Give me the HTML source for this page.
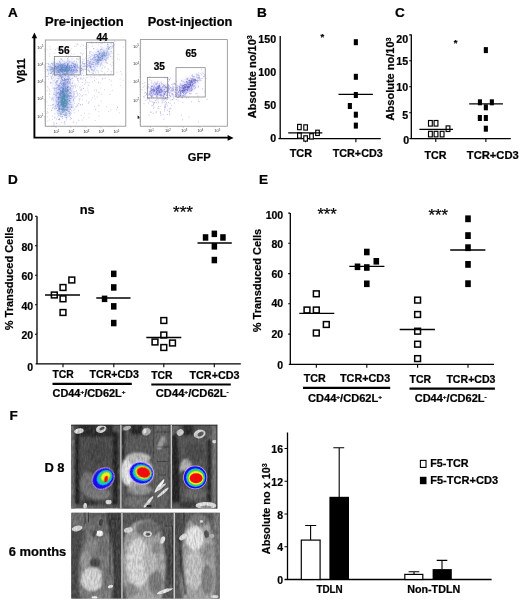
<!DOCTYPE html>
<html><head><meta charset="utf-8"><title>Figure</title>
<style>html,body{margin:0;padding:0;background:#fff}svg{display:block;font-family:"Liberation Sans",sans-serif;font-weight:bold;fill:#000}</style>
</head><body>
<svg width="520" height="603" viewBox="0 0 520 603">
<rect width="520" height="603" fill="#fff"/>
<defs><filter id="soft" x="0" y="0" width="100%" height="100%" filterUnits="userSpaceOnUse"><feGaussianBlur stdDeviation="0.4"/></filter></defs>
<g filter="url(#soft)">
<g id="panelA">
<text transform="translate(8 17.2) scale(1.13 1)" font-size="12" stroke="#000" stroke-width="0.22">A</text>
<text x="45" y="26" font-size="12.5" textLength="78.6" lengthAdjust="spacingAndGlyphs" stroke="#000" stroke-width="0.22">Pre-injection</text>
<text x="147.7" y="26" font-size="12.5" textLength="84.6" lengthAdjust="spacingAndGlyphs" stroke="#000" stroke-width="0.22">Post-injection</text>
<defs><filter id="b1" x="-30%" y="-30%" width="160%" height="160%"><feGaussianBlur stdDeviation="2"/></filter><filter id="b05" x="-30%" y="-30%" width="160%" height="160%"><feGaussianBlur stdDeviation="0.45"/></filter><filter id="b3" x="-30%" y="-30%" width="160%" height="160%"><feGaussianBlur stdDeviation="3.2"/></filter></defs>
<rect x="45.3" y="40" width="80.5" height="86.2" fill="#fff" stroke="#8a8a8a" stroke-width="0.8"/>
<g id="scatter1">
<g filter="url(#b3)" opacity="0.5">
<ellipse cx="63.5" cy="98" rx="7.5" ry="17" fill="#8794e2"/>
<ellipse cx="64" cy="69" rx="15" ry="6" fill="#8794e2"/>
<ellipse cx="99" cy="58" rx="13" ry="5" transform="rotate(-43 99 58)" fill="#a9b2ee"/>
</g>
<g filter="url(#b1)" opacity="0.4">
<ellipse cx="63.3" cy="100" rx="3.8" ry="9.5" fill="#4f78c8"/>
<ellipse cx="64" cy="69" rx="9" ry="2.8" fill="#6483d6"/>
<ellipse cx="99.5" cy="57" rx="8" ry="1.6" transform="rotate(-43 99.5 57)" fill="#8c9ee4"/>
<ellipse cx="63.4" cy="100.5" rx="1.7" ry="5" fill="#3f9e92"/>
</g>
<g filter="url(#b05)">
<path d="M63.4 94.3h0.9M63.9 74.4h0.9M51.3 76.9h0.9M88 92.2h0.9M86.7 88h0.9M75.1 86.4h0.9M77.1 94h0.9M52 70.8h0.9M73.5 80.9h0.9M77.4 66.6h0.9M73.6 91.5h0.9M56.1 123.2h0.9M78 110.7h0.9M56.8 64.3h0.9M61.8 79.4h0.9M79.4 88h0.9M59.9 59h0.9M58.6 111.3h0.9M53.5 87.9h0.9M75.7 46.2h0.9M68.9 113.3h0.9M66.1 62.4h0.9M77 80.5h0.9M80 104.7h0.9M93.9 90.7h0.9M70.1 50.8h0.9M79.1 67.3h0.9M59.9 51.6h0.9M50.6 69.3h0.9M94 95.9h0.9M74.4 64.3h0.9M47.8 105.5h0.9M87.8 85.8h0.9M72.4 92.4h0.9M96.7 96.9h0.9M77.3 95.1h0.9M85.2 94.7h0.9M64.7 106.5h0.9M77.9 78.4h0.9M73.8 97.6h0.9M70.2 109.5h0.9M56.1 72h0.9M86.8 82.6h0.9M52.2 104.7h0.9M94.4 71.3h0.9M65.3 74.8h0.9M93.3 57.4h0.9M90.7 51.6h0.9M53.8 97.2h0.9M88.3 102.6h0.9M74.2 85.4h0.9M70.7 95.8h0.9M64.8 88.7h0.9M78.3 82h0.9M81.8 95.6h0.9M104.2 89.8h0.9M60.3 73.1h0.9M67.8 104.2h0.9M61.9 91.3h0.9M47.8 87.9h0.9M75.2 87.7h0.9M60.2 97.7h0.9M73.1 69.5h0.9M111.7 90.5h0.9M58 79.6h0.9M63.9 80.5h0.9M86.2 54h0.9M66.8 104.9h0.9M83.4 117.8h0.9M61.9 97h0.9M87.6 47.3h0.9M80.3 46.2h0.9M71.2 110.7h0.9M65.3 86.6h0.9M82.3 85.4h0.9M66.4 118.8h0.9M86.9 74.9h0.9M117.4 54.5h0.9M84.5 75.6h0.9M70.4 98.9h0.9M72 97.3h0.9M79.1 58.9h0.9M49.5 46.7h0.9M90.8 99.9h0.9M94.5 59.5h0.9M68 54.6h0.9M81.8 120.1h0.9M52 119.4h0.9M85.8 77.7h0.9M66.3 67.5h0.9M75.2 91.8h0.9M95 57.5h0.9M88.5 117.7h0.9M94.1 77.7h0.9M54.6 106.4h0.9M70.1 85h0.9M93.6 75.7h0.9M73.7 67.3h0.9M67.8 102h0.9M69.4 113.8h0.9M66.9 107h0.9M94.8 120.6h0.9M55.9 103.1h0.9M64.5 81.3h0.9M57.4 87.6h0.9M100.2 83.1h0.9M77.6 106h0.9M64.4 51.8h0.9M58 107.8h0.9M86.1 101h0.9M68.1 101.3h0.9M71 53.7h0.9M84.6 68.4h0.9M51.8 63.5h0.9M46.8 90.7h0.9M81 75.4h0.9M73.2 71h0.9M82 99.9h0.9M80 89.8h0.9M92 97.8h0.9M84.1 113.4h0.9M62.7 70.7h0.9M51.3 98.6h0.9M102 79.1h0.9M78.1 103.7h0.9M51.7 79.9h0.9M73.3 101.8h0.9M67.4 77.3h0.9M49.7 73.4h0.9M84.1 84.4h0.9M52.6 61.8h0.9M116 109.4h0.9M79.2 93.5h0.9M98.3 92.3h0.9M66.8 94.5h0.9M73.8 65.2h0.9M73.2 86.4h0.9M60.8 58.6h0.9M106.2 106.9h0.9M46.5 49.7h0.9M98.7 105.7h0.9M100.8 101.4h0.9M52.3 88.3h0.9M66.9 94.5h0.9M54.9 79h0.9M76.3 91h0.9M79.5 87h0.9M62.2 100.9h0.9M68.9 62.2h0.9M56.7 82h0.9M66 85.8h0.9M68 86.2h0.9M65.6 51.8h0.9M75.6 107.3h0.9M75.8 77.5h0.9M76 58.8h0.9M51.3 99.8h0.9M49.3 119.9h0.9M61.1 49.1h0.9M54.3 94.5h0.9M76.9 86.2h0.9M94.7 99h0.9M67.6 96.3h0.9M97.8 105.3h0.9M86.4 56h0.9M65.3 99.5h0.9M62.7 107.7h0.9M78.7 103.8h0.9M90.3 76.8h0.9M61.8 103h0.9M85.6 82.2h0.9M47 86.5h0.9M74.5 109.1h0.9M82.1 82.6h0.9M83.4 95h0.9M71.7 83.3h0.9M63.6 98.5h0.9M49 66.9h0.9M68.1 46.9h0.9M55.7 95.6h0.9M78.2 80.7h0.9M63.8 48h0.9M100.9 94.4h0.9M87.7 60.8h0.9M82 104.4h0.9M56.7 48.3h0.9M68.6 88h0.9M79.4 98.8h0.9M95 109.9h0.9M48.9 56.2h0.9M66.5 82.1h0.9M76.8 43.9h0.9M64.4 74.5h0.9M66.9 63.8h0.9M80.6 90.5h0.9M66.4 65.9h0.9M50.3 82.9h0.9M70.7 48.9h0.9M63.5 74.5h0.9M76.3 96.7h0.9M67.3 61.6h0.9M65.4 80.4h0.9M81.2 89.1h0.9M55 49.5h0.9M61.3 64.2h0.9M48 79.2h0.9M59.2 84.5h0.9M77.4 72.1h0.9M109.8 74.3h0.9M87.8 84.9h0.9M54.5 87.9h0.9M73.8 112.7h0.9M81.8 104.7h0.9M77.2 78.3h0.9M77.2 56.1h0.9M89.3 57.6h0.9M64 82.5h0.9M88.9 82.6h0.9M53.5 88.2h0.9M78.5 99h0.9M54.1 124.1h0.9M98 82.4h0.9M72.8 71.7h0.9M93.5 65.1h0.9M80.1 70.5h0.9M55.5 99.2h0.9M92 81.8h0.9M55.8 101.5h0.9M67.1 89.5h0.9M95.4 109.2h0.9M68.1 100.9h0.9M56.3 80.9h0.9M92.6 52.8h0.9M89.2 71h0.9M66.9 74.5h0.9M65.8 55.9h0.9M68.4 47.5h0.9M66.7 89.4h0.9M76.4 76.4h0.9M51.7 85.8h0.9M59.3 119.6h0.9M81.8 79.2h0.9M59.5 65.1h0.9M51.1 73.5h0.9M73.3 94.4h0.9M55.3 82.3h0.9M58.6 86.1h0.9M70.8 91.8h0.9M63.7 90.8h0.9M69 100.5h0.9M68 57.2h0.9M49.2 97.1h0.9M56.3 97.2h0.9M81.4 89.4h0.9M77.1 79.5h0.9M76.2 69.3h0.9M66.2 100h0.9M52.2 97.4h0.9M101.5 68.7h0.9M70.6 78.4h0.9M95.7 89.6h0.9M84.2 65.4h0.9M67.7 81.8h0.9M81.4 78.9h0.9M76.1 90.8h0.9M94.9 68.2h0.9M49.6 49.4h0.9M98.5 92.3h0.9M58.7 65.8h0.9M77.5 95.2h0.9M49.7 53.9h0.9M73.2 87.9h0.9M58.2 93h0.9M65.9 79.9h0.9M61.6 107.3h0.9M93 73.2h0.9M83.2 63.8h0.9M69.3 100h0.9M95.3 72.8h0.9M66.7 86.7h0.9M55.8 90.9h0.9M68.7 88.3h0.9M58.1 103.3h0.9M63.1 67.5h0.9M76.6 44.4h0.9M55.8 81.5h0.9M83.3 78.1h0.9M73.6 66.3h0.9M73.4 121.9h0.9M56.4 82.4h0.9M71.1 106.6h0.9M78.9 101.1h0.9M71.7 88.1h0.9M84.7 90.9h0.9M97.9 52.3h0.9M82.6 73.1h0.9M67.9 75.9h0.9M59 61.9h0.9M56.7 97.3h0.9M68.7 83.6h0.9M64.9 103.9h0.9M76.9 78.6h0.9M80 78.4h0.9M47.2 116.9h0.9M76.4 59h0.9M87.4 90.3h0.9M74 103.4h0.9M71.6 78.4h0.9M68.5 75.1h0.9M74.3 83.9h0.9M80.2 73.1h0.9M60.4 98.2h0.9M92.1 73.3h0.9M65.8 120h0.9M62.1 99.6h0.9M98.2 83h0.9M90.1 64.9h0.9M71.7 80.1h0.9M70.1 109.1h0.9M111 66h0.9M57.6 93.9h0.9M49 93.9h0.9M78.3 75.3h0.9M77.6 44.8h0.9M81.7 44.9h0.9M55.5 68.7h0.9M60.8 102.6h0.9M69.5 72.5h0.9M77.8 120h0.9M68.1 90.8h0.9M73.2 99.3h0.9M81.9 63.2h0.9M61.6 101.7h0.9M70.7 105.7h0.9M59.6 78.1h0.9M62.9 111.5h0.9M52.2 78.6h0.9M61.8 64h0.9M59.7 88h0.9M66.1 83.8h0.9M54.1 88.7h0.9M61.6 84.4h0.9M62.1 107h0.9M72.7 122.3h0.9M54.9 88.3h0.9M55.5 94.5h0.9M66.7 73.3h0.9M66.2 94.6h0.9M72.8 65.1h0.9M69.3 98.3h0.9M66.3 102.1h0.9M73.7 91.4h0.9M69.9 88.4h0.9M68.6 82h0.9M61 122.7h0.9M66 92.5h0.9M51.7 82.4h0.9M63.7 110h0.9M65.8 103.4h0.9M61.6 116.6h0.9M58.5 86.2h0.9M70 96h0.9M59.5 85.8h0.9M59.7 105h0.9M65.2 75.6h0.9M65.8 97.9h0.9M53 107.4h0.9M59.5 89.6h0.9M69.2 116.1h0.9M55.8 102h0.9M57.6 114.1h0.9M56.2 108h0.9M82 54.3h0.9M58.1 103h0.9M61.2 84.3h0.9M81.4 96.3h0.9M47.2 108.7h0.9M46.5 113.4h0.9M56.8 97.3h0.9M73.3 96.9h0.9M49.5 67.9h0.9M72.6 106.8h0.9M54.7 108.8h0.9M66.5 105.4h0.9M70.1 106.7h0.9M69.9 55.7h0.9M63.5 102.9h0.9M85 79.7h0.9M59 95.6h0.9M70 87.9h0.9M72.3 82.4h0.9M64.4 86.6h0.9M63.4 83.9h0.9M47.6 112.5h0.9M64.7 86.1h0.9M63.8 110.8h0.9M53.2 93.2h0.9M66.9 103.4h0.9M59 61.3h0.9M73.2 100.3h0.9M62.1 90.5h0.9M64.4 88.2h0.9M52.8 83.2h0.9M56.6 85.2h0.9M51.6 105.2h0.9M50.2 105.6h0.9M52.9 100.6h0.9M74.4 98.3h0.9M55.4 95.8h0.9M63.3 67.3h0.9M56.5 97.6h0.9M57.8 96.3h0.9M68.6 107.3h0.9M70.2 104.4h0.9M59.4 94.7h0.9M59.6 90h0.9M60.4 67.4h0.9M59 94.6h0.9M53.2 94.6h0.9M66.6 92.4h0.9M80.7 53.3h0.9M60.1 65.8h0.9M66.7 90.2h0.9M67 59.1h0.9M69.7 101h0.9M62.2 85.6h0.9M67.7 87.2h0.9M64 86.8h0.9M63.8 107.1h0.9M54.1 94.5h0.9M67.6 97.3h0.9M53.8 64.3h0.9M69.7 119.5h0.9M70.3 108h0.9M56.4 83.6h0.9M70 80.4h0.9M55.8 83.3h0.9M64.1 83h0.9M73.8 93.7h0.9M52.2 115.9h0.9M56.8 98.5h0.9M61.9 90h0.9M64.9 83.9h0.9M50.6 82.9h0.9M61.8 95.9h0.9M67 96.9h0.9M54.9 83.7h0.9M66.4 103.5h0.9M60.9 92.2h0.9M70.4 95.2h0.9M68.6 104.3h0.9M63.9 115.9h0.9M56.8 89.3h0.9M54.7 82.2h0.9M76 123.1h0.9M62.2 104.1h0.9M72.6 107.9h0.9M72.8 74.8h0.9M56.2 102.2h0.9M74.9 96.7h0.9M54.3 89.3h0.9M56.1 81.3h0.9M75.5 85h0.9M72.7 100.4h0.9M56.5 101.6h0.9M76.6 105h0.9M73.4 96.6h0.9M66.6 91.8h0.9M65.8 115.8h0.9M49.1 94h0.9M64.2 85.9h0.9M59.2 107.6h0.9M80 105.1h0.9M64.9 70.2h0.9M79.3 96.2h0.9M61.7 77.1h0.9M61.5 77.5h0.9M62.6 102.5h0.9M62.3 99.5h0.9M54.3 117.9h0.9M95.7 52.8h0.9M85.9 57.7h0.9M101.5 47.8h0.9M96.3 79.1h0.9M106.2 60.2h0.9M99.5 60.6h0.9M97.4 70.8h0.9M97.7 51.3h0.9M105.8 54.7h0.9M99.8 88.1h0.9M85.4 48.5h0.9M75.5 66.4h0.9M80.2 69.4h0.9M88.7 57.6h0.9M102 78.3h0.9M121.3 74.4h0.9M99.7 64.2h0.9M119.6 79.1h0.9M94.3 67.5h0.9M101.4 62.6h0.9M92 46.1h0.9M91.6 43.5h0.9M112.7 68.4h0.9M83.5 78.7h0.9M120.1 71.7h0.9M122.8 47.2h0.9M104.4 67.1h0.9M100.4 64.1h0.9M110.6 44.1h0.9M83.1 45.3h0.9M91.3 54.7h0.9M102.4 65.2h0.9M98.4 53.9h0.9M92.7 73.4h0.9M107.2 63.2h0.9M94.1 80.6h0.9M90.9 69.8h0.9M111.8 58.8h0.9M107.9 48.6h0.9M110.2 64.4h0.9M79 70h0.9M87.3 77.4h0.9M89.9 60h0.9M101.4 58h0.9M101.1 55.4h0.9M106.1 62.1h0.9M111.9 62.4h0.9M76.6 63.1h0.9M103.6 74.8h0.9M85 80.6h0.9M96.1 90.7h0.9M96.2 70.2h0.9M93.6 48.6h0.9M111.2 72.9h0.9M116.5 72.3h0.9M91.1 42.1h0.9M90.2 53.9h0.9M88.2 69h0.9M101.9 58.8h0.9M100.1 60.3h0.9M100.6 71h0.9M109.5 53.8h0.9M79.9 79.1h0.9M99.4 75.3h0.9M78.3 58h0.9M98.3 44.7h0.9M91.8 70.7h0.9M110.9 81.1h0.9M87.6 45.2h0.9M104.2 73.3h0.9M100.3 46.4h0.9M107.4 71.5h0.9M104.6 56.2h0.9M101.6 71.5h0.9M101.9 67.8h0.9M98.2 72.7h0.9M91 61h0.9M94.3 68.9h0.9M117.1 59h0.9M122.7 80.3h0.9M107.5 69h0.9M119.2 59.8h0.9M96.7 49.2h0.9M103.7 78.1h0.9M104.4 67.1h0.9M95.6 64h0.9M80.9 74.6h0.9M93.1 48.7h0.9M89 52.1h0.9M108.3 74.7h0.9M81.7 73.1h0.9M108.7 55h0.9M80.2 53.1h0.9M90.4 66.1h0.9M100.8 43.6h0.9M108.9 47.5h0.9M89.7 51.7h0.9M91.5 77.6h0.9M108.2 69.2h0.9M101.8 43.4h0.9M91.8 55.4h0.9M86.3 68.1h0.9M89.1 53.5h0.9M105.1 78h0.9M100.1 50.3h0.9M65.5 64.1h0.9M112.6 65.6h0.9M109.1 79.7h0.9M111.5 56.7h0.9M110.6 71.3h0.9M88.7 101.4h0.9M86.5 94.9h0.9M111.2 85.1h0.9M78.5 120.7h0.9M62.9 98.6h0.9M77.1 105.2h0.9M56 123.7h0.9M74.2 46.2h0.9M67.9 74.9h0.9M47.5 76.5h0.9M79.3 99.8h0.9M74 63.6h0.9M64 103.4h0.9M119.8 85.5h0.9M63.6 108.4h0.9M77.1 59.2h0.9M56.6 106.3h0.9M109.6 94.5h0.9M83.1 88.4h0.9M64.1 122h0.9M74 94.8h0.9M110.4 109.7h0.9M83 66.1h0.9M89.3 52h0.9M111.5 71.1h0.9M112.9 63.8h0.9M75.8 62.7h0.9M79.7 57h0.9M46.7 101.8h0.9M68.4 62h0.9M70 81.5h0.9M79.9 94.7h0.9M97.9 71.8h0.9M118.9 112.8h0.9M51 110.6h0.9M117.2 107h0.9M57.5 110.9h0.9M95.9 42.8h0.9M47.4 121h0.9M97.7 62.4h0.9M54.4 53.4h0.9M64.7 106.3h0.9M73.5 54.2h0.9M117 107.6h0.9M59.6 115.9h0.9M94 106.7h0.9M98.6 116.1h0.9M108 111.5h0.9M61.9 99.3h0.9M87.9 103.4h0.9M80.7 115.2h0.9M89.8 63.6h0.9M64.8 53.1h0.9M85 46.4h0.9M82.9 53.6h0.9M84.8 83.1h0.9M88.6 113.6h0.9M47 111.7h0.9M83 88.5h0.9M98.4 111.7h0.9M81.1 68.6h0.9M85.5 65.7h0.9M80.3 62.2h0.9M89.4 66.9h0.9M80.2 58.6h0.9M78.5 74.7h0.9M79.4 65.7h0.9M84.8 65.4h0.9M82.9 61.2h0.9M79.8 71.9h0.9M81 69h0.9M77.2 65h0.9M85 69.6h0.9M79.5 68.1h0.9M85.5 63.4h0.9M85.9 62.9h0.9M80.8 65.9h0.9M73.1 65.6h0.9M80 60.9h0.9M82.3 68.7h0.9M82.4 70.4h0.9M79.4 61.4h0.9M90.2 67.4h0.9M87.8 63.1h0.9M87.2 66.9h0.9M86.6 66.1h0.9M88.8 63.7h0.9M80.1 60.8h0.9M88.6 63.4h0.9M79.8 62.7h0.9M82.2 61.6h0.9M82.8 63.8h0.9M81.8 62.6h0.9M84.1 64.4h0.9M84.5 66.9h0.9M85.4 58.3h0.9M81.9 63.2h0.9M87.1 60.5h0.9M81.1 65h0.9M82.7 69.5h0.9M82.2 69.4h0.9M78.1 59.7h0.9M88.9 67.5h0.9M86 66.4h0.9M85.9 61.7h0.9M87.8 64.1h0.9M87.9 66.3h0.9M76.1 61.5h0.9M88.5 65.5h0.9M82.4 66.8h0.9M82.3 64.1h0.9M84.4 66.5h0.9M90.1 66.2h0.9M91.5 72.3h0.9M90.9 69.7h0.9M84.5 66.5h0.9M83.4 63.4h0.9M83.7 63.8h0.9M90.6 67.9h0.9M82.2 59.3h0.9" stroke="#9094de" stroke-width="0.9" opacity="0.5" fill="none"/>
<path d="M63.3 94.6h0.9M59.4 86.8h0.9M53.3 104.4h0.9M63.3 97.4h0.9M69.4 100.8h0.9M64.3 95.1h0.9M59.8 114.6h0.9M66.5 117.2h0.9M61.8 99.2h0.9M58.9 108.9h0.9M57 104.6h0.9M67.1 114.1h0.9M58.6 110.2h0.9M60.7 90.9h0.9M56.9 110.8h0.9M70.7 93.2h0.9M60.3 95.3h0.9M73.4 110.2h0.9M62.1 80.1h0.9M59.7 111.3h0.9M71.5 96.7h0.9M60.7 93.5h0.9M54.6 108h0.9M58 109.9h0.9M56.8 85.2h0.9M65 91.1h0.9M66.6 99.3h0.9M57.9 105.2h0.9M68.1 79.2h0.9M70.8 104.7h0.9M67.7 79.7h0.9M60.4 95.2h0.9M68.8 84h0.9M60.8 77.5h0.9M62 102.6h0.9M56.4 92.4h0.9M64.5 115.7h0.9M66.3 96h0.9M58.8 88.9h0.9M60.4 100.4h0.9M62 116.5h0.9M65.2 87.8h0.9M69.3 109.3h0.9M64.2 91.5h0.9M55.9 87.8h0.9M67.7 90.8h0.9M57.5 100.7h0.9M64 105.4h0.9M65.2 113.9h0.9M59.1 109h0.9M58.6 106h0.9M63.9 101.6h0.9M67.5 99.1h0.9M67.5 108.5h0.9M64.2 93.1h0.9M60.4 93.3h0.9M62.4 98.7h0.9M75.7 106.5h0.9M67.1 90.2h0.9M60.5 95.5h0.9M64.8 88.2h0.9M70.6 93.5h0.9M69.4 74.8h0.9M63.1 101.9h0.9M63.7 105.4h0.9M64.4 100.8h0.9M55.6 91h0.9M52.8 105h0.9M64.7 97h0.9M60.1 92.7h0.9M70.1 117.6h0.9M62.2 112.5h0.9M57.7 78.3h0.9M61.8 89.7h0.9M60.8 100.8h0.9M76.7 92.9h0.9M63.3 101.9h0.9M62.6 108.7h0.9M71.7 86.4h0.9M64.2 96.3h0.9M65.8 83h0.9M57.2 74.3h0.9M65.4 101.1h0.9M65.1 74.2h0.9M62.2 91h0.9M57.8 89h0.9M66 104.9h0.9M62.9 104.4h0.9M60.7 99.6h0.9M63.1 104.8h0.9M63.1 97.5h0.9M63.1 92.2h0.9M72.6 105h0.9M63.7 123.1h0.9M70.3 83h0.9M65.8 108h0.9M70.6 113.3h0.9M67.3 86.9h0.9M59.4 101.6h0.9M66.1 88.4h0.9M61.9 94.7h0.9M63.3 102.5h0.9M62.8 86h0.9M67.6 116h0.9M62.2 109.7h0.9M64.8 106h0.9M65.8 91.1h0.9M65.1 109.7h0.9M58.2 119.4h0.9M71.1 118.6h0.9M71.4 107.3h0.9M62.2 92.6h0.9M59.7 100h0.9M62.7 106h0.9M53.2 122.7h0.9M73.1 99.3h0.9M65.9 104.2h0.9M64.6 96.9h0.9M63.3 90.3h0.9M64.1 98.8h0.9M65.2 90.1h0.9M63.4 99.5h0.9M66.6 88h0.9M64.5 109.4h0.9M66.1 95.3h0.9M61.3 96.4h0.9M65.5 115.5h0.9M63 92.2h0.9M64.8 101.2h0.9M59.9 91h0.9M62.4 106h0.9M58.8 88h0.9M66.2 86.3h0.9M63.5 102.7h0.9M63.5 88.3h0.9M63.3 95.5h0.9M65.3 90.3h0.9M69 81.7h0.9M62.5 99h0.9M67.8 92.9h0.9M66 93.2h0.9M65.4 117.4h0.9M61.3 103.5h0.9M58.7 109h0.9M68.5 99.7h0.9M58.2 102.9h0.9M67.5 110.7h0.9M67.9 80h0.9M59.5 113.7h0.9M57.3 110.5h0.9M70.9 107.5h0.9M68.3 95.8h0.9M58.1 97.6h0.9M62.5 98.5h0.9M66.4 97.7h0.9M63.9 103.5h0.9M62.1 118.3h0.9M65.1 100h0.9M62.8 92.4h0.9M69 100.9h0.9M59 92.8h0.9M63 94.3h0.9M68.7 87.1h0.9M65.3 100.6h0.9M58.2 99.2h0.9M62.6 104.2h0.9M61.2 102.1h0.9M56.8 87.2h0.9M66 110.1h0.9M63.6 92.7h0.9M69.3 77.4h0.9M59.4 105.8h0.9M66.8 88.3h0.9M54.3 113.7h0.9M64.5 89.6h0.9M63 108.5h0.9M51.5 110h0.9M67.8 77.4h0.9M67.7 80.5h0.9M67.9 103.5h0.9M73.4 93.2h0.9M62.7 110h0.9M61 91.4h0.9M61.7 98.1h0.9M58.4 103.8h0.9M65.6 99.9h0.9M70.8 96h0.9M69.3 93.6h0.9M67.8 78.9h0.9M64.3 97.2h0.9M61.6 92.5h0.9M62.3 91.4h0.9M54.3 92.2h0.9M61.3 93.4h0.9M58.8 97.3h0.9M66.8 96.6h0.9M60.3 113.1h0.9M66.9 108.9h0.9M68.5 95.9h0.9M62 110.6h0.9M61 97.6h0.9M64.7 103h0.9M61.5 109.2h0.9M62.1 106.6h0.9M67.5 106.2h0.9M67.2 87h0.9M58.1 92.2h0.9M64.4 114.9h0.9M57.9 101.9h0.9M60.1 91.1h0.9M61.7 106.2h0.9M63.5 111.4h0.9M58.5 108.1h0.9M67.2 100h0.9M65.7 93.2h0.9M58.9 94.5h0.9M60.2 116.2h0.9M64 102.3h0.9M67 91h0.9M67 103.2h0.9M56.4 104.9h0.9M65.4 103.9h0.9M70.4 95.1h0.9M65 107h0.9M58.7 111.3h0.9M57.9 85h0.9M66.2 87.7h0.9M63.8 81.7h0.9M64.3 87.1h0.9M65.7 83h0.9M65.4 96.3h0.9M63.6 98.3h0.9M64.7 85.2h0.9M52.3 98.7h0.9M59.6 94h0.9M66.4 78.3h0.9M60.4 92.4h0.9M58.6 102.2h0.9M63.2 90.4h0.9M58.6 107.2h0.9M60.1 105h0.9M66.4 79.3h0.9M58.6 98.8h0.9M64.3 107.3h0.9M66.1 110h0.9M61.8 96.7h0.9M66.9 94.7h0.9M68.8 82.6h0.9M66.2 97.4h0.9M54.2 108.8h0.9M64.6 99.3h0.9M59 93.8h0.9M70.3 90.7h0.9M48.9 89.1h0.9M58.2 97.3h0.9M62.2 89.3h0.9M59 109.8h0.9M55.9 119.1h0.9M61.7 87.4h0.9M66.3 105.1h0.9M58.4 106.6h0.9M56 88.8h0.9M68.3 96.6h0.9M57.4 104.1h0.9M67.2 99h0.9M55.8 94.9h0.9M64.6 107.2h0.9M71.4 96.8h0.9M61.3 98.5h0.9M69.1 89.4h0.9M70.6 70.5h0.9M67.1 92.1h0.9M64.8 106.3h0.9M58.3 97.8h0.9M64 105.2h0.9M59.9 88.4h0.9M53.4 125.1h0.9M62.6 96.6h0.9M56.3 108.4h0.9M60.1 113.9h0.9M66.9 99.4h0.9M67.1 87.5h0.9M62.3 92.9h0.9M57.8 98.9h0.9M61.8 114h0.9M49.3 91.1h0.9M59.6 93.9h0.9M64.9 103.3h0.9M63.7 94h0.9M65.2 102.9h0.9M55.6 95.8h0.9M58.1 86.3h0.9M63.9 99.7h0.9M64.3 89.9h0.9M63 89.4h0.9M64.5 106.3h0.9M70 112.7h0.9M60.1 94h0.9M59.1 102h0.9M71.4 106.9h0.9M54.7 85.3h0.9M57.4 104.1h0.9M63.1 102.1h0.9M71.5 90.8h0.9M58.4 119.4h0.9M65.3 90.9h0.9M55.6 82.5h0.9M52.8 99.1h0.9M62.9 109.4h0.9M63.1 91.7h0.9M58.9 118.7h0.9M55.6 100.4h0.9M63 105.5h0.9M61.2 104.1h0.9M66.9 97.7h0.9M61.5 96.9h0.9M59.3 96.6h0.9M61.9 101.1h0.9M68.2 113.1h0.9M61 105.2h0.9M64.1 107.1h0.9M63.2 101.8h0.9M61.8 90.7h0.9M66.2 112.8h0.9M65.9 103.7h0.9M64.7 94.4h0.9M55.2 105.5h0.9M64.5 93.2h0.9M58.4 112.1h0.9M54.4 117h0.9M64.6 124h0.9M60.2 98.6h0.9M61 100.5h0.9M62.9 91.1h0.9M68.4 91.1h0.9M60.8 104.7h0.9M61.3 94.3h0.9M65.1 95.2h0.9M58 97.6h0.9M61.3 116.8h0.9M58 108.9h0.9M60.2 95.1h0.9M61.7 101.8h0.9M65.9 117.6h0.9M59.7 112.8h0.9M67.1 107.8h0.9M59.5 108.2h0.9M62.6 102.7h0.9M61.7 105.9h0.9M67.4 111.1h0.9M61.8 109.4h0.9M70.1 89.6h0.9M70.5 85.4h0.9M65.3 105.4h0.9M69.5 102.3h0.9M61.7 90.5h0.9M57.4 106.7h0.9M62.7 91.4h0.9M66.1 91.1h0.9M61.7 94.1h0.9M69.5 114.8h0.9M63.6 82.5h0.9M64.4 99.8h0.9M64.4 105h0.9M61.3 108.6h0.9M66.8 101.4h0.9M61.9 93.9h0.9M67 87.7h0.9M63.1 91.1h0.9M56.9 105h0.9M63.2 99.4h0.9M68 83.6h0.9M62.8 102h0.9M67.6 87.8h0.9M66.2 101.5h0.9M68.4 111.3h0.9M64.3 121.7h0.9M63.6 94.6h0.9M62.4 89.1h0.9M64.4 79.3h0.9M62.7 103.4h0.9M67.8 95.6h0.9M69.7 92.5h0.9M63.9 79.3h0.9M60.5 90.5h0.9M69.2 104.8h0.9M58.3 104.2h0.9M65.5 96.7h0.9M63.6 95.9h0.9M62.1 80.7h0.9M62.1 112.1h0.9M69.5 96.5h0.9M60.3 96.6h0.9M66.8 102.8h0.9M60.6 102.6h0.9M62.1 104.2h0.9M62.5 83.9h0.9M63.1 106.8h0.9M58.7 97.6h0.9M67.2 95.4h0.9M59.3 119.6h0.9M66.1 109.7h0.9M58.3 115.4h0.9M56.7 93.3h0.9M65.6 112.8h0.9M59.8 92h0.9M65.3 79.4h0.9M65.6 104.9h0.9M61.1 104.4h0.9M66.3 102.3h0.9M64.6 114.5h0.9M61.2 100.5h0.9M60.5 109.4h0.9M61.3 103.7h0.9M63.8 99.7h0.9M70.5 98.6h0.9M68.7 107.7h0.9M68.9 97.7h0.9M66.7 106.9h0.9M60.6 101.6h0.9M62.8 98.6h0.9M69.1 92h0.9M57.4 80.9h0.9M61.8 92.4h0.9M63 104.7h0.9M70.4 102.6h0.9M65.7 91.7h0.9M64.9 112.9h0.9M70 79.6h0.9M66 115.2h0.9M67.6 84.1h0.9M61.7 104.9h0.9M65.5 90.9h0.9M59 108.5h0.9M56.9 113.1h0.9M63.2 102h0.9M58.1 92.7h0.9M67 84.3h0.9M72.7 85.4h0.9M58.2 99.1h0.9M64.8 106.5h0.9M61.9 96.8h0.9M62.7 93.1h0.9M52.1 108.1h0.9M64.2 100.7h0.9M60.6 101.4h0.9M63.3 98.2h0.9M68.9 81.9h0.9M65 88.3h0.9M61.1 114h0.9M58.9 97.7h0.9M60.3 108.4h0.9M60.3 81.8h0.9M65.6 95.6h0.9M61.3 109.8h0.9M59.9 95h0.9M63.7 103.2h0.9M60.5 109.3h0.9M72.8 95.4h0.9M72.3 78.2h0.9M69.3 95.9h0.9M64.1 95.6h0.9M61.4 86h0.9M60.9 111.9h0.9M68.2 95.8h0.9M61.5 91.8h0.9M57.3 116.9h0.9M66 100.3h0.9M61.9 88.6h0.9M68.3 107.2h0.9M58.8 108.7h0.9M58.3 105.2h0.9M59.6 94.6h0.9M65.1 103.5h0.9M68 90.8h0.9M69 112.9h0.9M63 103.7h0.9M60.2 97.3h0.9M57.8 99.6h0.9M63.3 112.6h0.9M66.7 107.4h0.9M61.9 96.6h0.9M61.8 101.2h0.9M54.9 106.3h0.9M57.2 93.4h0.9M63.7 93.8h0.9M70.2 98.4h0.9M69.1 111.2h0.9M61 102.9h0.9M68.9 96h0.9M64 93.4h0.9M63.8 95.5h0.9M63 109.1h0.9M69 100.7h0.9M63.6 107.7h0.9M62.7 88.3h0.9M68.4 89.9h0.9M67.7 89.5h0.9M71.5 88.9h0.9M65.9 114.3h0.9M58.4 113.7h0.9M61 81h0.9M65.9 106.2h0.9M64 73.5h0.9M63.3 95.9h0.9M61.9 96h0.9M56.3 92.9h0.9M69.8 115h0.9M62.2 91.7h0.9M64.3 109.8h0.9M67 87.4h0.9M63.9 100.5h0.9M68.5 111.4h0.9M64.7 111.4h0.9M60.7 114.4h0.9M61.3 102.9h0.9M67.6 90h0.9M61.5 81.1h0.9M64 98.5h0.9M61.7 103.9h0.9M64.3 67.9h0.9M70.7 75h0.9M59.4 65.5h0.9M58 69.1h0.9M68.8 65.7h0.9M72.6 65.2h0.9M71 70.3h0.9M67.7 76.5h0.9M61.1 68.2h0.9M67.8 71.9h0.9M51.3 69.8h0.9M56.7 71h0.9M76 69h0.9M62.5 69.5h0.9M68.6 69.4h0.9M59.9 66.2h0.9M61.9 73.1h0.9M62.6 73.6h0.9M66 68.8h0.9M48.4 66.4h0.9M74.9 64.2h0.9M54.5 64.9h0.9M58.5 71.1h0.9M68.9 61.6h0.9M76.8 66.7h0.9M58.1 74.7h0.9M62.8 64.4h0.9M57.7 66.2h0.9M54.3 67.6h0.9M71.5 70h0.9M50.9 78.7h0.9M54.5 69.2h0.9M63.8 71.5h0.9M60.5 70.4h0.9M82.7 69.1h0.9M53.6 70h0.9M56.2 67.5h0.9M65.2 70h0.9M60.9 71.8h0.9M61.7 64.2h0.9M71.5 67.5h0.9M74.6 66.5h0.9M68.7 69.9h0.9M53.3 73.8h0.9M73.5 70.6h0.9M69.6 67h0.9M63.4 69.6h0.9M67.3 71.3h0.9M61.6 66.3h0.9M58.4 70.3h0.9M48.4 64.3h0.9M59.7 66.8h0.9M61 59.3h0.9M60.4 67.9h0.9M70.6 61.8h0.9M60.7 70.5h0.9M68 73h0.9M73.1 65.1h0.9M69.3 67.6h0.9M56.2 74.3h0.9M57.8 65.8h0.9M59.8 65.8h0.9M72.7 70.2h0.9M76.3 70.3h0.9M57.9 72.5h0.9M57.5 67.2h0.9M62 68.9h0.9M74.4 66.6h0.9M66.7 68.7h0.9M52 64.9h0.9M61.5 70.2h0.9M66.4 70.5h0.9M63.9 67.2h0.9M67.4 65.2h0.9M51.2 67.6h0.9M50.4 67h0.9M56.7 66.8h0.9M63.1 65.9h0.9M59.6 62.7h0.9M64.8 65.7h0.9M67.2 58.7h0.9M56.2 69.7h0.9M64.4 69.2h0.9M49.8 69.6h0.9M64.9 65.3h0.9M70.3 68.6h0.9M63.7 67.2h0.9M68.5 69.1h0.9M73.9 70.4h0.9M57.8 68h0.9M71.9 67.5h0.9M67 70.7h0.9M61.9 60.5h0.9M64.7 69.6h0.9M64.7 66.1h0.9M74.6 68.3h0.9M57.8 66.2h0.9M66.8 64.9h0.9M54.3 76h0.9M75.5 72.6h0.9M76 70.9h0.9M48 73.1h0.9M74.9 70.6h0.9M76.1 67h0.9M64.7 71.6h0.9M62.7 72.7h0.9M64.2 71.3h0.9M64.3 63.5h0.9M54.3 80.1h0.9M66.1 73.5h0.9M74 74.9h0.9M68.6 66.7h0.9M63.7 61.9h0.9M61.8 72.1h0.9M71.1 73.6h0.9M55 66.5h0.9M68.4 76.2h0.9M52.9 73.8h0.9M67.4 67h0.9M83.7 59.7h0.9M62.9 69.6h0.9M83.2 75.3h0.9M84.4 69.3h0.9M72.6 73.7h0.9M68.2 70.1h0.9M61.8 67.3h0.9M52.2 75.8h0.9M59.4 61.3h0.9M65.9 68.7h0.9M65.1 75.3h0.9M62.5 67.8h0.9M56.6 68.7h0.9M59.4 69.5h0.9M92.4 70.2h0.9M55.6 75.7h0.9M71.5 71.7h0.9M70.1 71.7h0.9M69.7 73.9h0.9M72.8 73.7h0.9M58.9 68.8h0.9M56.8 72.2h0.9M71.2 67.1h0.9M68.9 78.3h0.9M74.9 64.8h0.9M62.6 71.1h0.9M63.2 70.2h0.9M74.4 70h0.9M53.3 71.4h0.9M62.6 69.2h0.9M58.3 63.8h0.9M52 67.5h0.9M53.6 59h0.9M74.1 64.6h0.9M56.8 70.7h0.9M56.4 71.2h0.9M59 69.9h0.9M64.5 68.8h0.9M46.6 63.5h0.9M63.1 73.9h0.9M58.5 70.7h0.9M65 70.5h0.9M72.7 63.4h0.9M66 68.2h0.9M60.6 65.7h0.9M56.2 65.1h0.9M53.3 77.8h0.9M79.2 68.8h0.9M70.4 65.3h0.9M64.8 74h0.9M63.1 65.2h0.9M61.3 65.2h0.9M50.6 68h0.9M59.8 65.9h0.9M55.3 65.4h0.9M65.7 73.8h0.9M61.6 76.9h0.9M48.5 69.8h0.9M52.8 68.2h0.9M64.4 70.8h0.9M74 66.8h0.9M52 68.1h0.9M66.2 66.3h0.9M71.8 74.9h0.9M50.3 70.1h0.9M72.9 61.9h0.9M65.4 68h0.9M50.3 73.5h0.9M65.5 67.1h0.9M67.6 71.1h0.9M70.6 70.9h0.9M67.3 64.6h0.9M59.6 69.3h0.9M60 65h0.9M46.7 69.7h0.9M63.8 66.7h0.9M59.6 65.6h0.9M56.6 68.4h0.9M57.5 71.2h0.9M62.2 69.3h0.9M67.3 73.4h0.9M69.1 69.6h0.9M62 65.9h0.9M60.3 71.3h0.9M65.6 67.4h0.9M51.2 63.3h0.9M66.5 72.5h0.9M67 63.8h0.9M61.5 69.6h0.9M55 70.1h0.9M61.6 65.8h0.9M52 71.7h0.9M66.8 65.6h0.9M54.1 72h0.9M69 67.7h0.9M78.2 67.8h0.9M53.7 72.7h0.9M61.8 70h0.9M63.9 65.2h0.9M52.5 68.1h0.9M76.5 65.2h0.9M76.1 69.6h0.9M53.2 69.8h0.9M68.7 65.6h0.9M53.2 70.4h0.9M56 63.5h0.9M61.3 69.4h0.9M58.4 64.5h0.9M65.5 62.5h0.9M68.4 70.6h0.9M79 72h0.9M66.8 69.7h0.9M63.8 64h0.9M77 70.7h0.9M60.9 64.7h0.9M77.2 70.7h0.9M52.6 71.2h0.9M81 68.7h0.9M67.2 67.3h0.9M57.7 72.7h0.9M91.9 69.2h0.9M62.4 71.7h0.9M60.7 71.4h0.9M71.1 65.1h0.9M53.6 68.5h0.9M71.2 69.8h0.9M74.9 63.9h0.9M68 66.6h0.9M64.4 70h0.9M54.6 68h0.9M52.8 69.8h0.9M55.7 67h0.9M65.5 66.5h0.9M74.1 66.5h0.9M71.3 69.8h0.9M54 68h0.9M55.8 67.5h0.9M61 75.3h0.9M59.6 74.4h0.9M67.6 64.1h0.9M73 70.2h0.9M61.6 67.9h0.9M65.9 67.7h0.9M58.6 67.5h0.9M74.3 66.6h0.9M67 64.7h0.9M56.9 63.9h0.9M61.7 71.2h0.9M66.3 67h0.9M69.1 67.6h0.9M66.9 69.8h0.9M68.5 59.9h0.9M51.5 71.6h0.9M62.5 76.8h0.9M61.3 66.8h0.9M77.2 70.8h0.9M81 70.6h0.9M61.6 71.4h0.9M56.3 67.2h0.9M58.4 68h0.9M70.7 67.1h0.9M66.5 67h0.9M71.6 58.9h0.9M61.6 69.4h0.9M53.6 72.4h0.9M65.5 73.4h0.9M72.3 71.1h0.9M62.1 64.9h0.9M61.5 67.2h0.9M65.8 67.1h0.9M91.6 63.1h0.9M74.3 67.1h0.9M61.3 72.1h0.9M63.5 64.5h0.9M67.3 68.1h0.9M53.8 66.1h0.9M67.9 69.9h0.9M60.8 76.6h0.9M67.3 66.6h0.9M65.7 68.4h0.9M50.7 76.2h0.9M61.8 67.8h0.9M58.3 72.3h0.9M63.8 74.9h0.9M70.7 74.7h0.9M62.4 70.1h0.9M59.5 68.2h0.9M47.6 66.7h0.9M54.8 66.5h0.9M74.6 69.7h0.9M74.7 71.9h0.9M71.9 72.4h0.9M58 71.7h0.9M60.5 66.9h0.9M74.4 76.5h0.9M54.5 75h0.9M71.1 65.8h0.9M66 70.1h0.9M66.9 67.5h0.9M51.7 68.9h0.9M71.4 71.6h0.9M69.6 72.7h0.9M54.4 68.6h0.9M66.6 72.4h0.9M64.9 70.6h0.9M64.7 76.3h0.9M86.2 69.6h0.9M46.7 69.3h0.9M50.4 66.4h0.9M65.6 74.9h0.9M67.7 71.2h0.9M72.8 69.5h0.9M55.7 68.5h0.9M66.6 67.8h0.9M57.4 67.5h0.9M49.8 65.1h0.9M62.7 67.5h0.9M63.8 73.8h0.9M66.2 68.7h0.9M52.8 65h0.9M66.9 65.7h0.9M67.4 65h0.9M64.7 68.5h0.9M72.6 67.4h0.9M60.1 69.7h0.9M64 74.8h0.9M61.1 66.9h0.9M60.6 70.5h0.9M65.6 71.3h0.9M50.9 77.6h0.9M80.3 68.7h0.9M52.4 69.4h0.9M67.3 60.9h0.9M63.6 63.5h0.9M67.7 73.7h0.9M72.9 63.4h0.9M76.1 72h0.9M60.2 70.6h0.9M77.4 67.6h0.9M63.4 66.8h0.9M74.1 61.1h0.9M76.5 65.4h0.9M72 63h0.9M54.9 66.7h0.9M71.1 63h0.9M69 66.5h0.9M74.9 67.7h0.9M67.9 68.2h0.9M79.9 67.5h0.9M63.3 75.9h0.9M64.2 71.2h0.9M56.8 69.5h0.9M57.6 63.4h0.9M50.6 72.9h0.9M67.4 63.4h0.9M80.1 66.3h0.9M60.1 69.7h0.9M53.1 63h0.9M56.7 73h0.9M72.2 63.2h0.9M74.5 68.9h0.9M68.1 69h0.9M67.3 65.2h0.9M55.2 66.3h0.9M60.1 71h0.9M52.4 74.5h0.9M57.7 66.7h0.9M69.9 70.3h0.9M60.4 65h0.9M54.4 63.1h0.9M74 72.7h0.9M80.6 70.6h0.9M66.5 71.5h0.9M72.2 67.9h0.9M66.7 76.5h0.9M48 63.8h0.9M54.7 71.5h0.9M74.4 67.6h0.9M69.6 68.6h0.9M66.2 66.9h0.9M63.3 68.8h0.9M73.8 76.7h0.9M46.9 70.7h0.9M63.5 72.2h0.9M73.2 71.6h0.9M70.9 65.4h0.9M47.9 74.7h0.9M74.6 65.4h0.9M75.3 71.2h0.9M54.5 73h0.9M57.3 66.2h0.9M49.4 68h0.9M72.8 66.4h0.9M46.5 76.4h0.9M80.4 71.3h0.9M58.6 64.5h0.9M48.5 70.8h0.9M75.4 65h0.9M63.5 67.8h0.9M61.2 70.6h0.9M82.7 66.5h0.9M71.3 72.7h0.9M60.9 68.3h0.9M51.2 72.6h0.9M58.6 66.5h0.9M64.1 65.7h0.9M54 67.7h0.9M77.1 68.1h0.9M68.3 63.6h0.9M59.9 63.3h0.9M62.5 71h0.9M86.4 66.5h0.9M98.8 54.5h0.9M105.9 55.3h0.9M100.9 54.5h0.9M97.4 57h0.9M98.8 59.4h0.9M99.1 61.8h0.9M114.2 41.3h0.9M102.8 57.7h0.9M102.6 53.6h0.9M98 63h0.9M103.9 55.3h0.9M95.2 64.1h0.9M103.6 52.9h0.9M107.4 58.7h0.9M88.4 70.5h0.9M88.9 62.1h0.9M98.6 60.6h0.9M97 55.2h0.9M88.8 65.4h0.9M97.4 56.2h0.9M93 70.7h0.9M93.4 62.7h0.9M94.4 60.1h0.9M98.7 57.1h0.9M100.5 51.8h0.9M93.5 71h0.9M100.1 60.1h0.9M107.6 52.1h0.9M96.1 54.5h0.9M90.8 69.7h0.9M104.4 55.1h0.9M84.3 63.5h0.9M90 61.9h0.9M98 54.9h0.9M107.8 47.2h0.9M97.2 63.2h0.9M99.3 54.1h0.9M108 57.1h0.9M90.7 64.9h0.9M88.3 60.4h0.9M104.4 55.7h0.9M106 53h0.9M86.2 70.1h0.9M92.4 59.5h0.9M93.5 66.3h0.9M101.1 63.9h0.9M98.2 51.1h0.9M107.2 55.3h0.9M96.8 55.2h0.9M107.6 44.6h0.9M94.6 54.5h0.9M87.6 62h0.9M108.3 53.9h0.9M93.7 57.6h0.9M99.4 59.2h0.9M87 64.8h0.9M99.8 60.1h0.9M100.4 58.5h0.9M86.1 60.3h0.9M99.1 54.2h0.9M97.5 58h0.9M100.5 53.5h0.9M108.3 49.3h0.9M103.6 56.1h0.9M106.4 52.6h0.9M86.6 67.3h0.9M111.8 47.7h0.9M103.5 55.6h0.9M93.5 60.4h0.9M97.2 64.4h0.9M104.9 59.6h0.9M106 59h0.9M99.5 52.7h0.9M110.8 48.2h0.9M107 51.2h0.9M97.3 60.3h0.9M89.4 62.3h0.9M92.3 62.3h0.9M90.1 66h0.9M105.1 60.5h0.9M110.7 46.7h0.9M104.2 52.2h0.9M101.4 55.6h0.9M95.7 61.5h0.9M90.4 67.9h0.9M94.9 57.5h0.9M97.8 61.4h0.9M95.6 63.2h0.9M105.8 57.9h0.9M91.8 64.4h0.9M105.3 58.1h0.9M102.2 58h0.9M88.4 65.7h0.9M109.1 47.2h0.9M111.4 43.2h0.9M94 56.3h0.9M103.6 54.7h0.9M112.3 46h0.9M94.5 56.5h0.9M100.4 60.5h0.9M106.3 56.1h0.9M104.5 52.6h0.9M103.2 54.7h0.9M93.9 69.8h0.9M99.3 53.4h0.9M102.1 56.3h0.9M108.4 55h0.9M80.5 77.8h0.9M106.9 46.6h0.9M87.6 70h0.9M101.9 56.7h0.9M90.9 63.8h0.9M101.8 58.4h0.9M113.8 45.2h0.9M90.3 56.6h0.9M105.7 51.1h0.9M96.3 56.5h0.9M100.1 49.6h0.9M99.9 57.6h0.9M103.6 59h0.9M98.6 58.8h0.9M101.4 49.4h0.9M97.2 59.9h0.9M103.5 50.4h0.9M105 53.9h0.9M86.3 64h0.9M90 67.1h0.9M101.8 58.3h0.9M103.2 51.8h0.9M107.6 53.2h0.9M103 56.1h0.9M91.4 66.7h0.9M89.9 61.8h0.9M97 60.5h0.9M98 57.6h0.9M92.9 64.6h0.9M91.3 59.5h0.9M102.6 60.6h0.9M94.2 58.2h0.9M111.5 53.2h0.9M96.7 59.4h0.9M106.4 63.1h0.9M101.9 59.3h0.9M98.1 51.3h0.9M89.3 62.1h0.9M102 55.6h0.9M110.1 46.4h0.9M101.2 56.3h0.9M104.7 62.2h0.9M103.9 59.4h0.9M106.2 48.7h0.9M102.7 52.9h0.9M100 57.7h0.9M98.2 56.9h0.9M108.6 47.8h0.9M107 57.3h0.9M105.2 56.4h0.9M110.3 51.8h0.9M107.2 44.3h0.9M111.8 46h0.9M86.3 67.4h0.9M89.9 66.6h0.9M87.2 65h0.9M101.2 56.5h0.9M93.3 62.4h0.9M98.5 58.8h0.9M98.5 57.6h0.9M101.4 49.1h0.9M96.1 61.3h0.9M95.2 59.3h0.9M96.6 61.2h0.9M106.7 49.9h0.9M98 60.4h0.9M93.4 55.3h0.9M100 55.5h0.9M96.6 62.9h0.9M98.1 56.5h0.9M81.3 67.7h0.9M98.8 57.7h0.9M102.3 55.8h0.9M93.3 58.2h0.9M91.6 64.5h0.9M93.1 66.8h0.9M86.7 62.3h0.9M94.1 55.3h0.9M107.6 45.8h0.9M98.2 57.8h0.9M90 59.2h0.9M88.6 71.4h0.9M110.1 56.4h0.9M90.6 68.3h0.9M100.7 59.9h0.9M97.1 62.8h0.9M106.1 53.8h0.9M108.1 48.7h0.9M107.6 46.9h0.9M104.2 41.7h0.9M97.4 56.2h0.9M101.1 60.2h0.9M103.9 53.8h0.9M107.1 44.2h0.9M96.8 66.3h0.9M96.9 51.5h0.9M98.8 53.3h0.9M111 51.3h0.9M98.1 64.2h0.9M95.5 65.2h0.9M102.5 54.1h0.9M89.1 66.2h0.9M82.9 71h0.9M89.4 72.1h0.9M87.7 58.7h0.9M103.6 55.2h0.9M100.1 65.7h0.9M104.2 53.3h0.9M88.7 55.6h0.9M104.1 57.1h0.9M92.2 58.6h0.9M95.3 54.6h0.9M100.6 59.6h0.9M109.4 49.2h0.9M101.8 58.4h0.9M107.5 48.6h0.9M89.4 63.9h0.9M89 63.9h0.9M98.9 59.5h0.9M100.2 57.2h0.9M97.5 61.1h0.9M106.3 54.2h0.9M68.5 80.3h0.9M61.5 92.2h0.9M63.3 84.5h0.9M61.2 87.8h0.9M60.9 76h0.9M62.3 79.3h0.9M65.8 79.7h0.9M63 80.7h0.9M63.9 78.2h0.9M66.9 73.5h0.9M61 77.7h0.9M65.1 82.2h0.9M64.4 80h0.9M59.6 75.3h0.9M61.2 78.8h0.9M63.6 84.1h0.9M66.4 81.4h0.9M59.5 75.6h0.9M62.7 84.2h0.9M70.3 83.1h0.9M69.5 93.2h0.9M58.3 89.3h0.9M67 90.1h0.9M62.5 87.7h0.9M60.6 81.6h0.9M62.6 92.7h0.9M61.6 87.7h0.9M62.8 77.7h0.9M63.5 86h0.9M59.7 85.8h0.9M59.7 76.7h0.9M63.4 80.6h0.9M58.6 72.2h0.9M62.6 83.5h0.9M60.7 83.1h0.9M56.4 84.4h0.9M64.2 83.7h0.9M60 82.5h0.9M63 88.4h0.9M63.6 83.5h0.9M59.6 87.2h0.9M67.2 79h0.9M65.1 83.8h0.9M62.3 74.3h0.9M69.5 70.8h0.9M63.7 79.7h0.9M67.1 79.5h0.9M62.7 85.7h0.9M64.3 78.9h0.9M65.2 84.3h0.9M66.5 78.9h0.9M62.3 79.7h0.9M59.2 83.5h0.9M64.1 90.5h0.9M61.2 84.3h0.9M67.1 81.3h0.9M62.8 82.8h0.9M59.7 76.1h0.9M67 83h0.9M62.2 74.6h0.9M63 89h0.9M57.9 76.7h0.9M66.9 90.6h0.9M68.7 78.7h0.9M64.9 77.5h0.9M64.6 79.8h0.9M63.3 90h0.9M63.8 80.6h0.9M62.7 83.6h0.9M60.5 83.2h0.9M64.9 91.3h0.9M54.3 74.9h0.9M57.6 87.2h0.9M72.2 83.2h0.9M63 88.8h0.9M52.8 80.9h0.9M50.1 82.9h0.9M60.5 79.1h0.9M63.9 78.5h0.9M66.9 82h0.9M64 97.1h0.9M60.7 87.5h0.9M59.2 89.4h0.9M66.3 82.8h0.9M66.4 91.6h0.9M68 82h0.9M62.3 88.6h0.9M56.7 78.4h0.9M64.4 85.4h0.9M69.9 92.5h0.9M63.8 84.6h0.9M57.3 80.9h0.9M63.5 80.7h0.9M62.7 85.6h0.9M58.7 78.6h0.9M55.5 88.8h0.9M58.3 71.9h0.9M65.6 80.7h0.9M66.3 79.8h0.9M70.9 86.2h0.9M63.1 82.7h0.9M61.7 86.8h0.9M70.4 79.5h0.9M58.2 85.5h0.9M66.7 73.1h0.9M59.8 76.1h0.9M64.7 85h0.9M59.6 75.3h0.9M65.2 69.8h0.9M65 81.1h0.9M70.1 87.9h0.9M60.2 80.4h0.9M61.4 77.7h0.9M62.8 87.7h0.9M56.6 80.7h0.9M68.4 86.4h0.9M59.3 77.2h0.9M59.1 72.5h0.9M67 82.4h0.9M59.8 73.5h0.9M61 79h0.9M69.3 79.3h0.9M63 88.3h0.9M65.1 80.9h0.9M53.9 90.3h0.9M64.9 79.4h0.9M62.2 76.4h0.9M59 73.2h0.9M64.5 85.1h0.9M63.2 86.6h0.9M64.6 82.7h0.9M59 85.5h0.9M67.2 85.7h0.9M67.4 79.2h0.9M58.7 89.4h0.9M60.2 83.4h0.9M61.8 82.1h0.9M61.4 78.8h0.9M55.5 93.2h0.9M63.3 70.7h0.9" stroke="#5e70cf" stroke-width="0.9" opacity="0.48" fill="none"/>
<path d="M61.9 92.7h0.9M62.7 83.7h0.9M64.2 110.5h0.9M62.7 104.7h0.9M65.2 92.1h0.9M66.7 89.4h0.9M62.4 97.7h0.9M66.2 100.9h0.9M63.5 94.9h0.9M63.7 100.3h0.9M64.6 109h0.9M65.1 100.2h0.9M62.7 110.2h0.9M63.9 99.9h0.9M66.9 110.2h0.9M64.8 99.4h0.9M61.8 106.7h0.9M62.2 106.1h0.9M61.8 100.6h0.9M64.3 101h0.9M63.9 102.4h0.9M61.4 92.8h0.9M62.6 111.4h0.9M63.5 94.1h0.9M62.1 100.1h0.9M66.2 96.5h0.9M64.6 101.2h0.9M63 94h0.9M63.4 95.4h0.9M65.2 88.9h0.9M65.7 104.9h0.9M64.3 109.6h0.9M65.3 89.2h0.9M63.5 102.9h0.9M62.4 92.8h0.9M64.3 103.3h0.9M62.7 98.4h0.9M62.6 96.4h0.9M63 106.8h0.9M60.2 97.7h0.9M66.9 102.2h0.9M63.6 105.3h0.9M61.7 92.2h0.9M60.4 90.6h0.9M63.8 105.4h0.9M62.8 95.7h0.9M64.2 103.9h0.9M64.7 88h0.9M63.1 83.9h0.9M64.3 94.7h0.9M61.6 109.4h0.9M66.2 103.2h0.9M64 101.1h0.9M62.3 99.6h0.9M67.9 94.7h0.9M62 101h0.9M65.1 105.4h0.9M61.5 99.1h0.9M63.3 92.2h0.9M63.8 97h0.9M65.3 102.8h0.9M61.8 100.4h0.9M62.9 96h0.9M62.1 106.7h0.9M63.2 89.1h0.9M61.6 105h0.9M68.4 93.6h0.9M62.8 97.9h0.9M60.4 102.4h0.9M63.3 101.8h0.9M68.4 98.6h0.9M64.9 105.4h0.9M62.3 96.2h0.9M66.6 104.7h0.9M64.2 93.1h0.9M65.2 103.4h0.9M67.7 109.5h0.9M65.1 101.8h0.9M63.8 96.5h0.9M64.1 101.6h0.9M64.5 106.9h0.9M64.3 96.6h0.9M64.7 109.9h0.9M61.6 102.6h0.9M64.5 103.4h0.9M64.6 99.5h0.9M62.8 110.6h0.9M67.6 91.3h0.9M57.9 102.5h0.9M62.2 96.7h0.9M60 102.1h0.9M63.6 96.6h0.9M64.7 115.4h0.9M66.3 107.6h0.9M62.4 104.1h0.9M63.1 107.3h0.9M64.8 99.8h0.9M64.9 95.5h0.9M64.7 109.6h0.9M62.6 103.5h0.9M59.6 105.7h0.9M65.7 93.7h0.9M67.2 100.9h0.9M60.2 91.2h0.9M65.5 98.4h0.9M66.3 90.3h0.9M63 106.2h0.9M61.8 104.2h0.9M62.6 102.1h0.9M63.5 114.1h0.9M60.6 104.8h0.9M66.7 93.1h0.9M62.9 114.6h0.9M66.7 81.4h0.9M63.5 89.2h0.9M64.4 95.5h0.9M62.6 94.7h0.9M64.3 97.1h0.9M61.6 98.5h0.9M64.6 94.6h0.9M66.4 89.6h0.9M64.5 97.6h0.9M67.1 96.1h0.9M62.5 91.5h0.9M67.5 104.1h0.9M61.3 97.8h0.9M61 109.5h0.9M65 87.2h0.9M63.7 105.8h0.9M63.4 103h0.9M63.2 101.3h0.9M64.2 95.6h0.9M64.2 101.1h0.9M63.6 95.7h0.9M61.3 101.4h0.9M66 84.8h0.9M61.9 108.5h0.9M65.7 95.6h0.9M66.7 93.9h0.9M61.2 112.2h0.9M62.6 98.6h0.9M60.3 93.4h0.9M61 99h0.9M59.2 106.5h0.9M62.9 96.1h0.9M61.9 104.6h0.9M66.9 97.6h0.9M66.4 110.3h0.9M66.3 102h0.9M60.1 104.1h0.9M61.8 69.4h0.9M53.9 68.5h0.9M65.2 67.2h0.9M65.6 72.3h0.9M65.2 67.7h0.9M76.8 64.8h0.9M59.1 69.8h0.9M60.8 64.5h0.9M65.4 70.6h0.9M59.7 71.9h0.9M66.7 71.3h0.9M55.8 69h0.9M72.6 72.9h0.9M71.1 69h0.9M65 67.8h0.9M69.9 67.6h0.9M64.7 65h0.9M55.9 72.5h0.9M64.3 69.4h0.9M52.2 68.9h0.9M75.1 66.1h0.9M51.3 68.7h0.9M61.2 68.6h0.9M57.3 66.4h0.9M57.4 70.3h0.9M63.7 70.6h0.9M58.2 70.2h0.9M61.6 69.2h0.9M69 69.1h0.9M62.1 65.7h0.9M64.3 70.5h0.9M60.6 68.9h0.9M54.5 66.4h0.9M66.2 71.5h0.9M62.3 65.7h0.9M62 65.9h0.9M62.5 72.8h0.9M65.6 68.7h0.9M69.6 68.3h0.9M65.8 69.4h0.9M66.4 66.1h0.9M67.8 70.7h0.9M51.7 63.7h0.9M59.2 71.9h0.9M64.1 70.3h0.9M67 70.7h0.9M60.6 67.9h0.9M66 70.2h0.9M67.1 69.7h0.9M61.4 71.2h0.9M66.5 71.1h0.9M50.3 71h0.9M50.8 69.4h0.9M60.4 69.2h0.9M61.4 68.4h0.9M65 69.7h0.9M59.7 64h0.9M59.8 70.1h0.9M59.4 69.8h0.9M62 67.1h0.9M104.7 55.2h0.9M99.7 57.2h0.9M101.7 53.3h0.9M98.4 60.3h0.9M102.2 54.1h0.9M98.1 59.4h0.9M95.6 60.4h0.9M97.3 55.5h0.9M102.3 56h0.9M101.9 52.9h0.9M95.7 59.8h0.9M97.9 62.3h0.9M96.9 59.4h0.9M101 56.8h0.9M103.3 52.1h0.9" stroke="#35a08c" stroke-width="0.9" opacity="0.5" fill="none"/>
</g>
</g>
<rect x="54.3" y="56.5" width="25.9" height="18.4" fill="none" stroke="#777" stroke-width="0.7"/>
<rect x="86.4" y="42.7" width="27.4" height="32.2" fill="none" stroke="#777" stroke-width="0.7"/>
<text x="58.3" y="53.5" font-size="10.2" textLength="11.2" lengthAdjust="spacingAndGlyphs" stroke="#000" stroke-width="0.22">56</text>
<text x="96.5" y="41.3" font-size="10.2" textLength="11.2" lengthAdjust="spacingAndGlyphs" stroke="#000" stroke-width="0.22">44</text>
<rect x="140.3" y="39.6" width="87" height="86.6" fill="#fff" stroke="#8a8a8a" stroke-width="0.8"/>
<g id="scatter2">
<g filter="url(#b3)" opacity="0.45">
<ellipse cx="158" cy="90" rx="9" ry="6" fill="#aaa6ea"/>
<ellipse cx="187.5" cy="86" rx="13" ry="5" transform="rotate(-41 187.5 86)" fill="#aaa6ea"/>
</g>
<g filter="url(#b05)">
<path d="M163.4 91.2h0.9M149.6 91.2h0.9M148.1 97.9h0.9M152.6 95.1h0.9M166.3 87.7h0.9M151.4 91.1h0.9M150.4 94.6h0.9M158.7 87h0.9M152.9 93.8h0.9M147.7 98.2h0.9M152.2 89.6h0.9M151.3 97.9h0.9M163.1 96.4h0.9M161.9 90.9h0.9M169 93.5h0.9M160.5 93.1h0.9M162.5 91.8h0.9M156.4 83.2h0.9M171.4 84.5h0.9M142.9 87.2h0.9M170.6 96.1h0.9M153.4 91.7h0.9M157.3 81.4h0.9M155.2 91.8h0.9M165.4 85h0.9M142.2 83.3h0.9M159.7 90.9h0.9M158.5 91.2h0.9M155 84.2h0.9M160.6 92.3h0.9M161.4 96.2h0.9M149.1 79.8h0.9M145.4 100.3h0.9M151.3 92.3h0.9M157.4 93.8h0.9M179.3 88.1h0.9M156.3 87.8h0.9M159.2 92.9h0.9M150.9 96.6h0.9M165.3 92.5h0.9M156.8 89.4h0.9M146.3 93.5h0.9M150.9 88.2h0.9M164.3 86.3h0.9M154 94.4h0.9M170.1 87.3h0.9M165 87.5h0.9M160.1 92.7h0.9M149.8 95.2h0.9M169.7 90.7h0.9M159.3 85.1h0.9M169.7 90.8h0.9M148.8 94h0.9M147.6 87.3h0.9M143 96.8h0.9M172.5 87.6h0.9M153.1 87.8h0.9M153.7 93h0.9M167.4 85.9h0.9M160.5 82.2h0.9M167.9 90.1h0.9M152.7 97.5h0.9M156.8 96.8h0.9M164.8 98.1h0.9M152.1 90.8h0.9M160 89.6h0.9M167.9 87.2h0.9M164.3 96.8h0.9M144.2 86h0.9M151.4 88h0.9M160.2 89.7h0.9M158 88.4h0.9M156.9 92.7h0.9M162.6 86.9h0.9M156.7 87h0.9M156.3 83.9h0.9M164 93.6h0.9M156.7 87.4h0.9M154.4 87.4h0.9M147 98h0.9M179.9 84.8h0.9M149.6 93.2h0.9M161.6 83.3h0.9M144.4 93h0.9M144 97h0.9M154.1 90.9h0.9M157.5 87.9h0.9M156.5 89.1h0.9M166 90.1h0.9M157.3 88.1h0.9M153.2 87.1h0.9M157.6 98.9h0.9M165.1 91.6h0.9M168.8 95.2h0.9M158.9 89.7h0.9M150 91.6h0.9M155.4 83.2h0.9M148.8 99.4h0.9M159 92.8h0.9M158.9 88.4h0.9M160.6 95.5h0.9M155.4 92.9h0.9M164.5 88.3h0.9M158.7 87.1h0.9M161.6 88.8h0.9M165.3 87h0.9M169 89.1h0.9M151.8 86.3h0.9M162 86.6h0.9M169.8 96.4h0.9M161 84h0.9M157.3 87.2h0.9M145.2 92.5h0.9M172.5 88h0.9M163 96.4h0.9M151 88.9h0.9M159.3 92.7h0.9M149.7 91.5h0.9M156.8 94.9h0.9M146.6 87.9h0.9M154.1 89h0.9M162.4 87.6h0.9M176.1 87.2h0.9M163.2 95.2h0.9M164.1 89.6h0.9M151.9 89.3h0.9M162 91.1h0.9M161.5 93.1h0.9M151.5 86.2h0.9M167.3 88.3h0.9M146.7 99.1h0.9M151.8 86.2h0.9M164.1 85.3h0.9M151.6 95.3h0.9M151.9 102h0.9M158.2 102.8h0.9M158.4 90.8h0.9M153.1 89.5h0.9M154.1 90.4h0.9M162.7 84.7h0.9M151.3 80.9h0.9M167.7 90.2h0.9M157.4 90.2h0.9M164.3 92h0.9M163.3 89.7h0.9M156.7 90.2h0.9M144.8 95.5h0.9M146.8 85.9h0.9M162.1 90.8h0.9M163 98.3h0.9M170.2 96.9h0.9M156 99.9h0.9M151.5 90.1h0.9M164.3 89.5h0.9M156.7 88.9h0.9M166.8 79.2h0.9M166.2 95.4h0.9M157 93.1h0.9M150.9 95.6h0.9M178.3 86.3h0.9M167 90.2h0.9M155.2 88.3h0.9M156.2 84.7h0.9M148.3 98.1h0.9M157.4 93h0.9M159.6 92.7h0.9M147.1 86.1h0.9M161.8 95.1h0.9M149.7 87.8h0.9M150.2 93.5h0.9M159.8 90.7h0.9M153.1 92.1h0.9M157.7 87.1h0.9M159.8 87.4h0.9M164 93.4h0.9M152.8 93.2h0.9M158 87.3h0.9M151.3 82.9h0.9M149.8 92.1h0.9M165.7 87.6h0.9M158.6 92.1h0.9M162.8 92.5h0.9M165.8 94h0.9M152.3 92.3h0.9M141.6 89.7h0.9M157.6 93.2h0.9M155.4 94.3h0.9M166.5 86.6h0.9M153.8 91.7h0.9M160.8 91.2h0.9M163.2 85.1h0.9M162.8 95.9h0.9M165 92.5h0.9M155.9 92.3h0.9M157 83.2h0.9M153.4 90.3h0.9M154 86.2h0.9M155.9 88.8h0.9M158 90.3h0.9M158.7 95.1h0.9M158.4 92.4h0.9M149.2 76.9h0.9M154.8 93.6h0.9M155.2 87.6h0.9M149.1 94.6h0.9M153.9 91.6h0.9M165.2 93h0.9M172.8 89.9h0.9M164 93.7h0.9M153 90.7h0.9M153.7 85.8h0.9M159.5 86.9h0.9M168.9 87.1h0.9M153.8 90.9h0.9M154 90.7h0.9M153.4 84h0.9M167.8 92.5h0.9M158.5 88.4h0.9M156.5 91.9h0.9M148.1 86.8h0.9M151.4 96.3h0.9M150.3 95.9h0.9M154.3 103h0.9M157 90.6h0.9M166.7 94.5h0.9M163.9 85.6h0.9M165.2 98.2h0.9M156.8 88.3h0.9M150.1 95.2h0.9M159.5 90.5h0.9M149.1 98h0.9M163.5 90.4h0.9M167.5 86.1h0.9M163.5 85.9h0.9M167.1 89.2h0.9M165.8 88.6h0.9M160.2 95.8h0.9M151.4 90.9h0.9M151.8 94.4h0.9M153.4 88.8h0.9M156.1 95.9h0.9M150.4 90.4h0.9M155.3 88h0.9M152.1 89.8h0.9M158.8 83.4h0.9M159.1 85.1h0.9M157.6 101h0.9M150.9 90.2h0.9M155.8 95h0.9M154.3 82.3h0.9M177.6 95.5h0.9M191.4 87.1h0.9M185.5 90.6h0.9M183.4 95.1h0.9M185.6 84.8h0.9M192.3 89.2h0.9M179.5 87.8h0.9M178.6 88.9h0.9M187.9 87.1h0.9M186.9 87.4h0.9M194.5 78.7h0.9M174.7 87.5h0.9M187.6 83h0.9M186.8 88.4h0.9M187.1 79.6h0.9M181.5 91.5h0.9M189 89.6h0.9M179.9 83.8h0.9M191.5 75.5h0.9M182.1 92.4h0.9M186 97.9h0.9M190.2 86h0.9M189.4 93.8h0.9M189.4 81.2h0.9M192 74.9h0.9M184.4 90h0.9M186.4 82.9h0.9M200.7 80.7h0.9M182.3 92.1h0.9M182.5 88.5h0.9M194.1 80.8h0.9M187 86.9h0.9M182.6 95.5h0.9M185.5 93.4h0.9M183.6 87.5h0.9M197.4 78.1h0.9M182.3 88.3h0.9M195.3 87.1h0.9M190.6 81.6h0.9M178.9 90.7h0.9M187.3 87.3h0.9M186 92.8h0.9M179.9 89.6h0.9M191.7 84.4h0.9M187 90.5h0.9M181.9 97.8h0.9M205.6 78.4h0.9M192.4 90.1h0.9M190.6 88.9h0.9M186.6 87.6h0.9M187.2 78.9h0.9M189.8 91.3h0.9M169.6 103.3h0.9M194.1 81.6h0.9M191.7 88.2h0.9M185.7 79.6h0.9M180.8 90.6h0.9M187.5 84.1h0.9M190.4 90.6h0.9M171.2 105.2h0.9M194.8 82.2h0.9M187.7 86.1h0.9M190.3 84.5h0.9M184.5 91.9h0.9M182.1 90.5h0.9M182.8 85.2h0.9M191.2 82.4h0.9M179.9 92.3h0.9M181.7 97.2h0.9M195 87.9h0.9M185.4 90.9h0.9M179.5 89.4h0.9M187.8 87.5h0.9M192.8 80.2h0.9M196.6 82.1h0.9M181.5 90.5h0.9M185.3 95.2h0.9M185.9 91.2h0.9M192.8 80.3h0.9M185.1 89.5h0.9M179.9 87.3h0.9M182.1 92.2h0.9M192.4 89.2h0.9M176.9 97.4h0.9M182.6 95.2h0.9M192.2 82.4h0.9M196.1 76.9h0.9M181.9 86.4h0.9M183.6 89.9h0.9M194.5 85.3h0.9M184.3 85.8h0.9M184.5 86.8h0.9M183.7 87.6h0.9M181.9 90.7h0.9M183.9 88.5h0.9M179 94.1h0.9M192.5 84.4h0.9M181.6 86.3h0.9M176.8 90.4h0.9M182.8 88.8h0.9M177.6 97.5h0.9M176.3 92.9h0.9M184.7 92h0.9M198.4 74.9h0.9M184.9 86.6h0.9M185.9 86.7h0.9M200.9 69.7h0.9M185.2 84.7h0.9M188.7 82.8h0.9M188.9 80.2h0.9M201.3 74.8h0.9M177.8 97.5h0.9M182.1 85.9h0.9M189.2 82.3h0.9M191 80.6h0.9M193.5 81.3h0.9M190.1 84.4h0.9M184.4 87.2h0.9M191.8 85.2h0.9M189.6 93.6h0.9M195.8 73.9h0.9M194.2 79.8h0.9M187.3 82.8h0.9M196.2 74.9h0.9M185.5 84.7h0.9M202.3 78.3h0.9M178.2 92.2h0.9M188.9 83h0.9M183 85.4h0.9M186.8 82h0.9M197.7 87.1h0.9M188.9 91.7h0.9M188.5 82.3h0.9M183.3 85.6h0.9M189.7 87h0.9M192.8 80.2h0.9M179.8 92.4h0.9M198.6 77.4h0.9M182.8 81.4h0.9M185.9 89.7h0.9M184.3 94.4h0.9M182.1 87.1h0.9M183.7 89h0.9M192.6 79.1h0.9M176.1 95.7h0.9M194 86.8h0.9M183.5 95.7h0.9M192.7 83.3h0.9M180.8 88.2h0.9M183.4 93.5h0.9M191.1 87.3h0.9M199 76h0.9M191.2 90.8h0.9M178.4 92.1h0.9M184.4 87.2h0.9M186.7 83.2h0.9M192 76.4h0.9M178.9 86.5h0.9M179.9 95.1h0.9M191.1 82.1h0.9M194.1 82.8h0.9M183.8 89.1h0.9M194 88.7h0.9M185.5 89.3h0.9M193.5 85.9h0.9M192.4 86.2h0.9M180.3 91.3h0.9M175.2 96.6h0.9M202.7 73.7h0.9M188.6 86.1h0.9M185.7 82.1h0.9M182.8 89.4h0.9M186.8 83.1h0.9M185.3 84.9h0.9M177.9 91.7h0.9M184.2 92.4h0.9M197.1 80h0.9M185 85.9h0.9M176.6 93.4h0.9M199.7 80.1h0.9M188.4 84.2h0.9M188.4 87h0.9M188.4 87.1h0.9M182.8 90.4h0.9M187.5 90.5h0.9M182.4 95.9h0.9M185.9 85.3h0.9M187.9 86.2h0.9M186.9 88.3h0.9M180.4 85.2h0.9M191.8 82.1h0.9M198.8 77.7h0.9M177.5 100h0.9M184.3 91.1h0.9M203.7 76.4h0.9M180.5 91.8h0.9M178.8 96.4h0.9M188.9 80.5h0.9M192.3 85.7h0.9M191.2 80h0.9M180.9 87.2h0.9M180.1 93.9h0.9M190.4 88.9h0.9M188.6 83.8h0.9M181.7 97.5h0.9M188.5 85h0.9M179.1 89.1h0.9M189.5 80.3h0.9M192.5 84.3h0.9M181.8 84.3h0.9M193 87h0.9M179.8 87.6h0.9M194.6 80.4h0.9M186.1 92.3h0.9M186.7 88.6h0.9M183.5 86.5h0.9M187.1 82.8h0.9M175.3 94.5h0.9M197.5 81.8h0.9M203.2 76.4h0.9M198.2 77.7h0.9M185.7 89.5h0.9M183.1 93h0.9M185.2 89.1h0.9M181.9 90.4h0.9M193.2 80.1h0.9M183.9 90.4h0.9M192.7 80.7h0.9M177 88.8h0.9M181.3 95.9h0.9M187.9 87.6h0.9M194.8 80.8h0.9M189.5 82.2h0.9M178.7 96.3h0.9M188.1 87.9h0.9M180.6 91.6h0.9M198.4 73h0.9M190.8 88.5h0.9M186.3 87.6h0.9M175.8 99.5h0.9M187.4 91.4h0.9M186.2 85.7h0.9M189.8 83.1h0.9M187.4 92.4h0.9M193.9 80.9h0.9M194.3 83.5h0.9M191.3 82.9h0.9M188.8 86.6h0.9M191.8 83.7h0.9M183.9 88.9h0.9M188.4 81.2h0.9M189 87.8h0.9M188 84.4h0.9M186.4 85h0.9M192.9 79.8h0.9M174.7 92.4h0.9M189.8 84.9h0.9M181.9 85.6h0.9M184.9 84.9h0.9M183.4 89.6h0.9M183.4 91h0.9M182 89h0.9M189.1 90.7h0.9M199.3 79.6h0.9M182.9 90.1h0.9M194.9 82.9h0.9M177.2 94.8h0.9M184.4 91.8h0.9M190.4 81.3h0.9M200.4 73.6h0.9M202.5 72.2h0.9M190.8 90.9h0.9M183.3 87.8h0.9M196.7 77.9h0.9M188 80.5h0.9M200.7 78.5h0.9M191.2 85.7h0.9M183.4 87.7h0.9M178.5 95.5h0.9M197 81.2h0.9M194.7 82.6h0.9M179.1 88.1h0.9M191.9 82.9h0.9M193.1 80h0.9M182.9 91.9h0.9M180.7 85.3h0.9M182 87.4h0.9M179.5 90.9h0.9M198.2 86.2h0.9M197.5 75.6h0.9M194.5 79.6h0.9M188.7 82.3h0.9M183.7 82.6h0.9M197.2 74.5h0.9M190 81.5h0.9M186.9 81.9h0.9M187 90.2h0.9M187.3 78.3h0.9M190.2 78.4h0.9M190.4 85.7h0.9M169.2 88.7h0.9M170.9 91.8h0.9M176 95.9h0.9M173.4 98.6h0.9M167.8 97.7h0.9M170.8 93.4h0.9M171.4 90.4h0.9M168 91.7h0.9M180.9 90.7h0.9M171.9 90.1h0.9M175.1 89.2h0.9M172 91h0.9M177.7 94.1h0.9M167.4 87.4h0.9M172.1 93.7h0.9M176.3 89.2h0.9M181.4 89.4h0.9M178.2 96.2h0.9M179 90.9h0.9M174.5 83.5h0.9M164.2 87.5h0.9M175.2 94.6h0.9M171.5 94.5h0.9M174.5 96.6h0.9M165 86.5h0.9M167.8 85.6h0.9M179.3 86.1h0.9M168.3 88.4h0.9M175.9 88.1h0.9M175.2 92.4h0.9M169.2 80h0.9M168 84.7h0.9M179.2 87h0.9M167.3 91.7h0.9M172.2 86.1h0.9M176.8 94h0.9M173.2 86.8h0.9M168.2 81.3h0.9M173.7 91.7h0.9M167.9 90.2h0.9M186.5 85.2h0.9M164.5 92.7h0.9M170.1 88h0.9M174.7 89.5h0.9M176.4 92.3h0.9M177.1 90.6h0.9M162.5 95.9h0.9M164.5 94.5h0.9M173.1 84.1h0.9M172.3 93.8h0.9M167.5 90.2h0.9M168.7 85.8h0.9M169.3 95.5h0.9M175 89.9h0.9M171.6 90.6h0.9M173.3 90.8h0.9M164.4 94h0.9M168.2 78.9h0.9M175.1 84.9h0.9M171.4 89.7h0.9M169.4 92.3h0.9M170.8 88.9h0.9M167.8 88.9h0.9M167.4 90.2h0.9M177.8 94.4h0.9M173.9 84.2h0.9M176.5 94h0.9M181.1 80.4h0.9M172.1 88.6h0.9M176.8 85.4h0.9M170.3 100h0.9M176.4 81.5h0.9M172.1 95.9h0.9M169.3 92.6h0.9M172.4 83.8h0.9M169.2 94.9h0.9M177.2 87.5h0.9M177 87h0.9M173.1 89.9h0.9M166.5 91.4h0.9M170.3 78.3h0.9M168.3 86.4h0.9M168.3 85.8h0.9M169 79.5h0.9M175.9 90.3h0.9M173.1 88.9h0.9M172.3 88.9h0.9M167.2 83.5h0.9M172.3 94.4h0.9M173 97h0.9M150.6 101.3h0.9M155.7 111.3h0.9M171.7 99.6h0.9M165 101.4h0.9M153.1 102.3h0.9M152.8 113.4h0.9M164.1 111h0.9M162.5 86.8h0.9M165.5 103.6h0.9M143.6 103.7h0.9M167 114.5h0.9M153 108.3h0.9M162.3 101.9h0.9M158 106.6h0.9M164 107.4h0.9M157.2 94.2h0.9M169.1 111.7h0.9M156.1 102.8h0.9M165.6 91.3h0.9M163.4 119.2h0.9M161.9 98.3h0.9M174.1 103.1h0.9M161.5 100.2h0.9M161.2 91h0.9M151.2 93.1h0.9M166.2 102.4h0.9M167.9 89.4h0.9M155.9 112.8h0.9M154.5 90.5h0.9M154.9 100.7h0.9M159.9 111.8h0.9M169.1 113.4h0.9M164 99.7h0.9M156.6 93.1h0.9M168.8 111.4h0.9M160.6 97h0.9M164.6 106.3h0.9M161.1 95.2h0.9M161.6 99.2h0.9M165.1 107h0.9M163 100.1h0.9M170.5 108.2h0.9M168.7 108.6h0.9M164.6 105.6h0.9M152.6 90.8h0.9M153.6 107.1h0.9M166.3 104.2h0.9M160.6 115.3h0.9M157.3 91h0.9M149.4 100.9h0.9M164.8 107.9h0.9M158.5 108.5h0.9M159.7 98.2h0.9M157.4 108.1h0.9M166.6 95.5h0.9M153.2 103.8h0.9M174.6 95.2h0.9M151.4 105.8h0.9M163.5 98.9h0.9M159.8 106.3h0.9M148 102.9h0.9M164.1 109.2h0.9M168 102.5h0.9M150.1 112h0.9M165.3 98.7h0.9M167.1 110h0.9M159 87.2h0.9M156.8 97.9h0.9M154.3 102.5h0.9M152.6 105.6h0.9M173 95h0.9M167.1 99.4h0.9M163.7 102.2h0.9M168.8 98.2h0.9M165 97.8h0.9M161.6 102.9h0.9M167.5 92.4h0.9M150.7 112.3h0.9M162.6 114.4h0.9M152.9 104.4h0.9M188.6 117h0.9M177.1 89.4h0.9M190.6 93.7h0.9M164.8 104.5h0.9M144.4 82.4h0.9M202 88.8h0.9M172.3 99.6h0.9M197.8 101.6h0.9M161 87.9h0.9M196.5 93.5h0.9M166.9 105.9h0.9M198.1 122.1h0.9M159.1 86.2h0.9M165.8 99.4h0.9M169.6 108.9h0.9M166.7 91.6h0.9M188 97.5h0.9M160.2 113.7h0.9M188.1 88.9h0.9M181.7 81.2h0.9M156.4 91.3h0.9M184.4 96.3h0.9M164.4 77.7h0.9M148.5 114.9h0.9M184.5 85h0.9M198.9 101.7h0.9M170.7 87.4h0.9M198 99.1h0.9M206.7 99.5h0.9M167.7 87.5h0.9M165.6 98.2h0.9M182.5 102.6h0.9M185.9 81.9h0.9M174.4 83.3h0.9M186.5 78.6h0.9M167.8 84.3h0.9M167.2 91.8h0.9M204.5 91.8h0.9M152.8 91.2h0.9M191.1 101.9h0.9M182.2 119.8h0.9M197.5 96.1h0.9M199.3 78.3h0.9M175 84.2h0.9M181.1 115.2h0.9M169.3 114.9h0.9M160.1 112.8h0.9M148.3 84.4h0.9M195.5 93.9h0.9M180.5 94.8h0.9" stroke="#7a78d8" stroke-width="0.9" opacity="0.55" fill="none"/>
<path d="M158.3 90h0.9M153.2 89.7h0.9M158 87.9h0.9M159.5 95.6h0.9M150.3 88.9h0.9M156.3 90.6h0.9M157.9 88.4h0.9M157.4 90.5h0.9M157.1 94.9h0.9M158.1 86.2h0.9M150.6 92.2h0.9M156 88.7h0.9M151.6 89.6h0.9M157.1 88.5h0.9M156 93.1h0.9M160.9 92.1h0.9M156.7 86.6h0.9M160.9 94.8h0.9M163.1 93.9h0.9M158.7 91.6h0.9M157.4 94.1h0.9M156.3 96.7h0.9M160.9 89.6h0.9M157.5 85.9h0.9M154.3 89.6h0.9M168.2 88.2h0.9M161.5 90.7h0.9M156.2 92.3h0.9M148.8 93.2h0.9M166 91.4h0.9M157.2 91h0.9M160.4 89.1h0.9M158 92h0.9M156 91.6h0.9M159 92.6h0.9M153.2 89h0.9M155.6 93.9h0.9M158.6 85.7h0.9M151.9 96.1h0.9M159 86.8h0.9M153.5 90.9h0.9M163.7 95.2h0.9M155.9 89.6h0.9M165.9 87.7h0.9M164.3 91.5h0.9M157.9 94.2h0.9M159.6 88.1h0.9M150.8 90.5h0.9M159.7 94.4h0.9M146.1 94.4h0.9M160.2 94.9h0.9M161 91.1h0.9M159.4 91.6h0.9M154.8 90.2h0.9M158.1 89.2h0.9M151.1 86.3h0.9M159.7 92h0.9M158 87.1h0.9M161.2 89.4h0.9M148.4 95h0.9M151 97h0.9M159.8 89.2h0.9M147.2 88.5h0.9M164 94.4h0.9M158.6 85.6h0.9M155.8 89.7h0.9M159.5 90.1h0.9M159 85.8h0.9M154.7 94.7h0.9M151.2 93.2h0.9M198.4 78.1h0.9M183 93.1h0.9M179.8 93.6h0.9M187.3 89.4h0.9M192.9 81.7h0.9M196.6 80.5h0.9M184.2 86.4h0.9M197.8 76h0.9M189.2 84.3h0.9M183.4 85.5h0.9M186.7 86.4h0.9M191.2 81.5h0.9M179.3 90.5h0.9M187.6 86.5h0.9M190.2 82.7h0.9M190 84.1h0.9M194.8 79.4h0.9M188.9 86.3h0.9M191.7 80h0.9M185.1 87.4h0.9M179.8 96.1h0.9M192.2 81.9h0.9M203.9 74.9h0.9M198.4 80.5h0.9M189.7 80.5h0.9M194.7 80.7h0.9M182.3 90.7h0.9M192.1 84.5h0.9M187.6 84.6h0.9M189.9 82h0.9M188.1 87.4h0.9M181.7 92.1h0.9M177.7 92.2h0.9M182 90.6h0.9M190.6 83.2h0.9M191.6 82.6h0.9M187.2 87.5h0.9M186.6 87.1h0.9M191.3 81.2h0.9M191.1 80h0.9M184.3 84.3h0.9M187.2 90.3h0.9M190.7 86.5h0.9M179.8 90.2h0.9M190.6 85.4h0.9M189 80.4h0.9M189.7 83.9h0.9M188.6 86.2h0.9M184.1 84.6h0.9M181 88h0.9M181.6 90.9h0.9M192.3 79.9h0.9M182.7 87.3h0.9M180 92.7h0.9M185.1 87.5h0.9M183.9 90.4h0.9M182.9 91.4h0.9M185.6 89.7h0.9M184.2 90.1h0.9M189.3 84.2h0.9M194.9 80h0.9M184.5 90.4h0.9M183.2 88.4h0.9M187.8 86.2h0.9M192.8 76.9h0.9M187.8 88.6h0.9M187.2 87.1h0.9M192.6 78.3h0.9M188.7 87h0.9M182.7 85.7h0.9M183.4 90.1h0.9M190.7 87.9h0.9M191.4 78.6h0.9M193.2 83.3h0.9M194.4 79.5h0.9M185.2 88.4h0.9M195.1 80.9h0.9M196 80.6h0.9M183.6 86.8h0.9M193.7 76.7h0.9M185.6 86.9h0.9M182.8 88.7h0.9M190.6 89.4h0.9M186.5 85.5h0.9M189.2 86.9h0.9M183.4 88.6h0.9M180.7 93.8h0.9M192.4 85.6h0.9M185 93.8h0.9M191 82.2h0.9M185.4 87.1h0.9M183.2 91.8h0.9M183.9 87.3h0.9M189.9 84.2h0.9M184.6 87.9h0.9M187.1 89.9h0.9M191 81.1h0.9M189.1 88.1h0.9M188.5 89.7h0.9M190.3 85.3h0.9M179.5 95.2h0.9M189.7 85.5h0.9M190.3 84.9h0.9M186.4 89.3h0.9M186.4 84.2h0.9M183.2 90.2h0.9M186.2 81.5h0.9M179.8 95.5h0.9M191.1 90.2h0.9M180.4 91.6h0.9" stroke="#4a48b0" stroke-width="0.9" opacity="0.5" fill="none"/>
</g>
</g>
<rect x="147.4" y="77.3" width="20.3" height="20.7" fill="none" stroke="#777" stroke-width="0.7"/>
<rect x="176" y="67.7" width="29.2" height="29.3" fill="none" stroke="#777" stroke-width="0.7"/>
<text x="153.7" y="69.7" font-size="10.2" textLength="11.2" lengthAdjust="spacingAndGlyphs" stroke="#000" stroke-width="0.22">35</text>
<text x="185.4" y="56.9" font-size="10.2" textLength="11.2" lengthAdjust="spacingAndGlyphs" stroke="#000" stroke-width="0.22">65</text>
<g font-size="4" font-weight="normal" fill="#333">
<text x="53.4" y="133.2">10<tspan font-size="2.8" dy="-1.4">1</tspan></text>
<text x="68.2" y="133.2">10<tspan font-size="2.8" dy="-1.4">2</tspan></text>
<text x="83.4" y="133.2">10<tspan font-size="2.8" dy="-1.4">3</tspan></text>
<text x="98.4" y="133.2">10<tspan font-size="2.8" dy="-1.4">4</tspan></text>
<text x="113.4" y="133.2">10<tspan font-size="2.8" dy="-1.4">5</tspan></text>
<text x="37.2" y="117.7">10<tspan font-size="2.8" dy="-1.4">1</tspan></text>
<text x="37.2" y="100.4">10<tspan font-size="2.8" dy="-1.4">2</tspan></text>
<text x="37.2" y="83.2">10<tspan font-size="2.8" dy="-1.4">3</tspan></text>
<text x="37.2" y="66.2">10<tspan font-size="2.8" dy="-1.4">4</tspan></text>
<text x="37.2" y="48.8">10<tspan font-size="2.8" dy="-1.4">5</tspan></text>
<text x="147.9" y="132.4">10<tspan font-size="2.8" dy="-1.4">1</tspan></text>
<text x="164.9" y="132.4">10<tspan font-size="2.8" dy="-1.4">2</tspan></text>
<text x="181.2" y="132.4">10<tspan font-size="2.8" dy="-1.4">3</tspan></text>
<text x="197.4" y="132.4">10<tspan font-size="2.8" dy="-1.4">4</tspan></text>
<text x="214.2" y="132.4">10<tspan font-size="2.8" dy="-1.4">5</tspan></text>
<text x="133" y="101.7">10<tspan font-size="2.8" dy="-1.4">2</tspan></text>
<text x="133" y="83.2">10<tspan font-size="2.8" dy="-1.4">3</tspan></text>
<text x="133" y="65.4">10<tspan font-size="2.8" dy="-1.4">4</tspan></text>
<text x="133" y="47.6">10<tspan font-size="2.8" dy="-1.4">5</tspan></text>
<text x="137.4" y="118.8">1</text>
</g>
<path d="M45.5 126.2v0.9M48.2 126.2v0.9M45.3 125.5h-0.9M141.9 126.2v0.9M50 126.2v0.9M45.3 123.3h-0.9M143.9 126.2v0.9M140.3 124.5h-0.9M51.5 126.2v0.9M45.3 121.7h-0.9M145.5 126.2v0.9M140.3 122.8h-0.9M52.7 126.2v0.9M45.3 120.3h-0.9M146.8 126.2v0.9M140.3 121.4h-0.9M53.7 126.2v0.9M45.3 119.2h-0.9M147.9 126.2v0.9M140.3 120.2h-0.9M54.5 126.2v0.9M45.3 118.2h-0.9M148.9 126.2v0.9M140.3 119.2h-0.9M55.3 126.2v0.9M45.3 117.3h-0.9M149.7 126.2v0.9M140.3 118.3h-0.9M56 126.2v1.6M45.3 116.5h-1.6M150.5 126.2v1.6M140.3 117.5h-1.6M60.5 126.2v0.9M45.3 111.3h-0.9M155.5 126.2v0.9M140.3 112.2h-0.9M63.2 126.2v0.9M45.3 108.3h-0.9M158.4 126.2v0.9M140.3 109.1h-0.9M65 126.2v0.9M45.3 106.1h-0.9M160.4 126.2v0.9M140.3 106.9h-0.9M66.5 126.2v0.9M45.3 104.5h-0.9M162 126.2v0.9M140.3 105.2h-0.9M67.7 126.2v0.9M45.3 103.1h-0.9M163.3 126.2v0.9M140.3 103.8h-0.9M68.7 126.2v0.9M45.3 102h-0.9M164.4 126.2v0.9M140.3 102.6h-0.9M69.5 126.2v0.9M45.3 101h-0.9M165.4 126.2v0.9M140.3 101.6h-0.9M70.3 126.2v0.9M45.3 100.1h-0.9M166.2 126.2v0.9M140.3 100.7h-0.9M71 126.2v1.6M45.3 99.3h-1.6M167 126.2v1.6M140.3 99.9h-1.6M75.5 126.2v0.9M45.3 94.1h-0.9M172 126.2v0.9M140.3 94.6h-0.9M78.2 126.2v0.9M45.3 91.1h-0.9M174.9 126.2v0.9M140.3 91.5h-0.9M80 126.2v0.9M45.3 88.9h-0.9M176.9 126.2v0.9M140.3 89.3h-0.9M81.5 126.2v0.9M45.3 87.3h-0.9M178.5 126.2v0.9M140.3 87.6h-0.9M82.7 126.2v0.9M45.3 85.9h-0.9M179.8 126.2v0.9M140.3 86.2h-0.9M83.7 126.2v0.9M45.3 84.8h-0.9M180.9 126.2v0.9M140.3 85h-0.9M84.5 126.2v0.9M45.3 83.8h-0.9M181.9 126.2v0.9M140.3 84h-0.9M85.3 126.2v0.9M45.3 82.9h-0.9M182.7 126.2v0.9M140.3 83.1h-0.9M86 126.2v1.6M45.3 82.1h-1.6M183.5 126.2v1.6M140.3 82.3h-1.6M90.5 126.2v0.9M45.3 76.9h-0.9M188.5 126.2v0.9M140.3 77h-0.9M93.2 126.2v0.9M45.3 73.9h-0.9M191.4 126.2v0.9M140.3 73.9h-0.9M95 126.2v0.9M45.3 71.7h-0.9M193.4 126.2v0.9M140.3 71.7h-0.9M96.5 126.2v0.9M45.3 70.1h-0.9M195 126.2v0.9M140.3 70h-0.9M97.7 126.2v0.9M45.3 68.7h-0.9M196.3 126.2v0.9M140.3 68.6h-0.9M98.7 126.2v0.9M45.3 67.6h-0.9M197.4 126.2v0.9M140.3 67.4h-0.9M99.5 126.2v0.9M45.3 66.6h-0.9M198.4 126.2v0.9M140.3 66.4h-0.9M100.3 126.2v0.9M45.3 65.7h-0.9M199.2 126.2v0.9M140.3 65.5h-0.9M101 126.2v1.6M45.3 64.9h-1.6M200 126.2v1.6M140.3 64.7h-1.6M105.5 126.2v0.9M45.3 59.7h-0.9M205 126.2v0.9M140.3 59.4h-0.9M108.2 126.2v0.9M45.3 56.7h-0.9M207.9 126.2v0.9M140.3 56.3h-0.9M110 126.2v0.9M45.3 54.5h-0.9M209.9 126.2v0.9M140.3 54.1h-0.9M111.5 126.2v0.9M45.3 52.9h-0.9M211.5 126.2v0.9M140.3 52.4h-0.9M112.7 126.2v0.9M45.3 51.5h-0.9M212.8 126.2v0.9M140.3 51h-0.9M113.7 126.2v0.9M45.3 50.4h-0.9M213.9 126.2v0.9M140.3 49.8h-0.9M114.5 126.2v0.9M45.3 49.4h-0.9M214.9 126.2v0.9M140.3 48.8h-0.9M115.3 126.2v0.9M45.3 48.5h-0.9M215.7 126.2v0.9M140.3 47.9h-0.9" stroke="#999" stroke-width="0.4" fill="none"/>
<path d="M137.6 115.6l2.2 1.6l-2.2 1.6z" fill="#222"/>
<path d="M34.4 37V137.6H228.5" stroke="#000" stroke-width="1.9" fill="none"/>
<path d="M34.4 32.4L37.1 38.2H31.7z" fill="#000"/>
<path d="M233.6 137.9L227.6 140.7V135.1z" fill="#000"/>
<text transform="translate(25.2 83) rotate(-90)" font-size="10.5" textLength="24.5" lengthAdjust="spacingAndGlyphs" stroke="#000" stroke-width="0.22">Vβ11</text>
<text x="187.8" y="160.7" font-size="11" textLength="23" lengthAdjust="spacingAndGlyphs" stroke="#000" stroke-width="0.22">GFP</text>
</g>
<g id="panelB">
<text transform="translate(257 17) scale(1.13 1)" font-size="12" stroke="#000" stroke-width="0.22">B</text>
<path d="M280.2 36V138.7M278.4 138.7H380.8" stroke="#000" stroke-width="1.3" fill="none"/>
<path d="M305.5 138.7v3.6M355.9 138.7v3.6" stroke="#000" stroke-width="1.1" fill="none"/>
<text x="276.2" y="43.1" font-size="10.7" text-anchor="end" stroke="#000" stroke-width="0.22">150</text>
<text x="276.2" y="75.9" font-size="10.7" text-anchor="end" stroke="#000" stroke-width="0.22">100</text>
<text x="276.2" y="109.1" font-size="10.7" text-anchor="end" stroke="#000" stroke-width="0.22">50</text>
<text x="276.2" y="142.3" font-size="10.7" text-anchor="end" stroke="#000" stroke-width="0.22">0</text>
<text transform="translate(255.6 118.2) rotate(-90)" font-size="10.8" textLength="83" lengthAdjust="spacingAndGlyphs" stroke="#000" stroke-width="0.22">Absolute no/10<tspan font-size="65%" dy="-3.5">3</tspan></text>
<text x="322.4" y="40" font-size="9.5" text-anchor="middle" stroke="#000" stroke-width="0.22">*</text>
<rect x="297.6" y="124.4" width="3.6" height="5.3" fill="#fff" stroke="#000" stroke-width="1.15"/>
<rect x="303.8" y="124.8" width="3.6" height="5.3" fill="#fff" stroke="#000" stroke-width="1.15"/>
<rect x="315.7" y="130.2" width="3.6" height="5.3" fill="#fff" stroke="#000" stroke-width="1.15"/>
<rect x="297.6" y="132.9" width="3.6" height="5.3" fill="#fff" stroke="#000" stroke-width="1.15"/>
<rect x="309.7" y="133.7" width="3.6" height="5.3" fill="#fff" stroke="#000" stroke-width="1.15"/>
<rect x="303.8" y="135.8" width="3.6" height="5.3" fill="#fff" stroke="#000" stroke-width="1.15"/>
<path d="M288.2 132.8L322.3 132.8" stroke="#000" stroke-width="1.3" fill="none"/>
<rect x="353.8" y="39.2" width="4.1" height="6" fill="#000"/>
<rect x="353.8" y="73.8" width="4.1" height="6" fill="#000"/>
<rect x="353.8" y="92" width="4.1" height="6" fill="#000"/>
<rect x="347.8" y="103" width="4.1" height="6" fill="#000"/>
<rect x="353.8" y="111.7" width="4.1" height="6" fill="#000"/>
<rect x="353.8" y="122.6" width="4.1" height="6" fill="#000"/>
<path d="M338.5 94.3L372.9 94.3" stroke="#000" stroke-width="1.3" fill="none"/>
<text x="289.7" y="156.6" font-size="10.5" textLength="22.4" lengthAdjust="spacingAndGlyphs" stroke="#000" stroke-width="0.22">TCR</text>
<text x="332.7" y="156.6" font-size="10.5" textLength="50" lengthAdjust="spacingAndGlyphs" stroke="#000" stroke-width="0.22">TCR+CD3</text>
</g>
<g id="panelC">
<text transform="translate(395 17.2) scale(1.13 1)" font-size="12" stroke="#000" stroke-width="0.22">C</text>
<path d="M411.3 34.6V138.7M409.4 138.7H510.8" stroke="#000" stroke-width="1.3" fill="none"/>
<path d="M435.8 138.7v3.4M485.9 138.7v3.4" stroke="#000" stroke-width="1.1" fill="none"/>
<path d="M409.2 34.9h2.1M409.2 60.8h2.1M409.2 86.8h2.1M409.2 112.8h2.1" stroke="#000" stroke-width="1.1" fill="none"/>
<text x="408.2" y="42.7" font-size="10.7" text-anchor="end" stroke="#000" stroke-width="0.22">20</text>
<text x="408.2" y="64.5" font-size="10.7" text-anchor="end" stroke="#000" stroke-width="0.22">15</text>
<text x="408.2" y="91.2" font-size="10.7" text-anchor="end" stroke="#000" stroke-width="0.22">10</text>
<text x="408.2" y="118.5" font-size="10.7" text-anchor="end" stroke="#000" stroke-width="0.22">5</text>
<text x="409.2" y="143.6" font-size="10.7" text-anchor="end" stroke="#000" stroke-width="0.22">0</text>
<text transform="translate(394.2 120.4) rotate(-90)" font-size="10.8" textLength="83" lengthAdjust="spacingAndGlyphs" stroke="#000" stroke-width="0.22">Absolute no/10<tspan font-size="65%" dy="-3.5">3</tspan></text>
<text x="455.6" y="46" font-size="9.5" text-anchor="middle" stroke="#000" stroke-width="0.22">*</text>
<rect x="428.5" y="120.5" width="3.8" height="5.6" fill="#fff" stroke="#000" stroke-width="1.15"/>
<rect x="434.1" y="120.5" width="3.8" height="5.6" fill="#fff" stroke="#000" stroke-width="1.15"/>
<rect x="446.1" y="125.9" width="3.8" height="5.6" fill="#fff" stroke="#000" stroke-width="1.15"/>
<rect x="428.5" y="131.3" width="3.8" height="5.6" fill="#fff" stroke="#000" stroke-width="1.15"/>
<rect x="434.1" y="131.3" width="3.8" height="5.6" fill="#fff" stroke="#000" stroke-width="1.15"/>
<rect x="440.2" y="131.3" width="3.8" height="5.6" fill="#fff" stroke="#000" stroke-width="1.15"/>
<path d="M419.4 129.4L453 129.4" stroke="#000" stroke-width="1.3" fill="none"/>
<rect x="483.8" y="47.1" width="4.1" height="6" fill="#000"/>
<rect x="477.9" y="99.3" width="4.1" height="6" fill="#000"/>
<rect x="489.8" y="99.3" width="4.1" height="6" fill="#000"/>
<rect x="483.8" y="104.3" width="4.1" height="6" fill="#000"/>
<rect x="477.8" y="115" width="4.1" height="6" fill="#000"/>
<rect x="483.8" y="115" width="4.1" height="6" fill="#000"/>
<rect x="483.8" y="125.7" width="4.1" height="6" fill="#000"/>
<path d="M469.2 103.9L502.9 103.9" stroke="#000" stroke-width="1.3" fill="none"/>
<text x="424.4" y="158.8" font-size="10.5" textLength="22" lengthAdjust="spacingAndGlyphs" stroke="#000" stroke-width="0.22">TCR</text>
<text x="466.8" y="158.8" font-size="10.5" textLength="52" lengthAdjust="spacingAndGlyphs" stroke="#000" stroke-width="0.22">TCR+CD3</text>
</g>
<g id="panelD">
<text transform="translate(8 183.8) scale(1.13 1)" font-size="12" stroke="#000" stroke-width="0.22">D</text>
<path d="M37 216.2V363.8M35.6 363.8H240.8" stroke="#000" stroke-width="1.3" fill="none"/>
<path d="M35 334.3h2M35 304.8h2M35 275.3h2M35 245.8h2M35 216.3h2M63 363.8v3.4M113.8 363.8v3.4M163.8 363.8v3.4M214.3 363.8v3.4" stroke="#000" stroke-width="1.1" fill="none"/>
<text x="33.2" y="370.6" font-size="10.5" text-anchor="end" stroke="#000" stroke-width="0.22">0</text>
<text x="33.2" y="339.4" font-size="10.5" text-anchor="end" stroke="#000" stroke-width="0.22">20</text>
<text x="33.2" y="309.6" font-size="10.5" text-anchor="end" stroke="#000" stroke-width="0.22">40</text>
<text x="33.2" y="280.4" font-size="10.5" text-anchor="end" stroke="#000" stroke-width="0.22">60</text>
<text x="33.2" y="250.9" font-size="10.5" text-anchor="end" stroke="#000" stroke-width="0.22">80</text>
<text x="33.2" y="220.8" font-size="10.5" text-anchor="end" stroke="#000" stroke-width="0.22">100</text>
<text transform="translate(12.5 330.2) rotate(-90)" font-size="10.8" textLength="103.6" lengthAdjust="spacingAndGlyphs" stroke="#000" stroke-width="0.22">% Transduced Cells</text>
<text x="79.7" y="213.8" font-size="13" textLength="15" lengthAdjust="spacingAndGlyphs" stroke="#000" stroke-width="0.22">ns</text>
<text x="173" y="217.7" font-size="16" textLength="20" lengthAdjust="spacingAndGlyphs" font-weight="normal" stroke="#000" stroke-width="0.25">***</text>
<rect x="68.9" y="277.1" width="5.8" height="5.8" fill="#fff" stroke="#000" stroke-width="1.5"/>
<rect x="60.1" y="284.6" width="5.8" height="5.8" fill="#fff" stroke="#000" stroke-width="1.5"/>
<rect x="51.4" y="292.1" width="5.8" height="5.8" fill="#fff" stroke="#000" stroke-width="1.5"/>
<rect x="60.1" y="295.9" width="5.8" height="5.8" fill="#fff" stroke="#000" stroke-width="1.5"/>
<rect x="60.1" y="309.6" width="5.8" height="5.8" fill="#fff" stroke="#000" stroke-width="1.5"/>
<path d="M45 295L80 295" stroke="#000" stroke-width="1.3" fill="none"/>
<rect x="111" y="270.6" width="5.5" height="6.5" fill="#000"/>
<rect x="111" y="284.2" width="5.5" height="6.5" fill="#000"/>
<rect x="101.8" y="295.6" width="5.5" height="6.5" fill="#000"/>
<rect x="111" y="303.1" width="5.5" height="6.5" fill="#000"/>
<rect x="111" y="319.8" width="5.5" height="6.5" fill="#000"/>
<path d="M96.3 298L130.5 298" stroke="#000" stroke-width="1.3" fill="none"/>
<rect x="160.9" y="317.6" width="5.8" height="5.8" fill="#fff" stroke="#000" stroke-width="1.5"/>
<rect x="160.9" y="332.1" width="5.8" height="5.8" fill="#fff" stroke="#000" stroke-width="1.5"/>
<rect x="152.1" y="339.1" width="5.8" height="5.8" fill="#fff" stroke="#000" stroke-width="1.5"/>
<rect x="169.6" y="340.1" width="5.8" height="5.8" fill="#fff" stroke="#000" stroke-width="1.5"/>
<rect x="160.9" y="344.6" width="5.8" height="5.8" fill="#fff" stroke="#000" stroke-width="1.5"/>
<path d="M146.3 337.5L181.3 337.5" stroke="#000" stroke-width="1.3" fill="none"/>
<rect x="211.6" y="230.6" width="5.5" height="6.5" fill="#000"/>
<rect x="202.8" y="234.2" width="5.5" height="6.5" fill="#000"/>
<rect x="220.2" y="234.2" width="5.5" height="6.5" fill="#000"/>
<rect x="211.6" y="243.1" width="5.5" height="6.5" fill="#000"/>
<rect x="211.6" y="256.8" width="5.5" height="6.5" fill="#000"/>
<path d="M197.5 243L231.8 243" stroke="#000" stroke-width="1.3" fill="none"/>
<text x="52.5" y="378.4" font-size="10.3" textLength="21.3" lengthAdjust="spacingAndGlyphs" stroke="#000" stroke-width="0.22">TCR</text>
<text x="89.5" y="378.4" font-size="10.3" textLength="49.3" lengthAdjust="spacingAndGlyphs" stroke="#000" stroke-width="0.22">TCR+CD3</text>
<text x="151.3" y="379.3" font-size="10.3" textLength="21.3" lengthAdjust="spacingAndGlyphs" stroke="#000" stroke-width="0.22">TCR</text>
<text x="189.5" y="379.3" font-size="10.3" textLength="50" lengthAdjust="spacingAndGlyphs" stroke="#000" stroke-width="0.22">TCR+CD3</text>
<path d="M52.5 383.8L131.8 383.8" stroke="#000" stroke-width="2.2" fill="none"/>
<path d="M151.3 384.5L230.8 384.5" stroke="#000" stroke-width="2.2" fill="none"/>
<text x="52.5" y="397.4" font-size="10" textLength="73" lengthAdjust="spacingAndGlyphs" stroke="#000" stroke-width="0.22">CD44<tspan font-size="58%" dy="-3.6">+</tspan><tspan dy="3.6">/</tspan>CD62L<tspan font-size="58%" dy="-3.6">+</tspan></text>
<text x="155.8" y="397.4" font-size="10" textLength="73" lengthAdjust="spacingAndGlyphs" stroke="#000" stroke-width="0.22">CD44<tspan font-size="58%" dy="-3.6">+</tspan><tspan dy="3.6">/</tspan>CD62L<tspan font-size="58%" dy="-3.6">-</tspan></text>
</g>
<g id="panelE">
<text transform="translate(259 183.8) scale(1.13 1)" font-size="12" stroke="#000" stroke-width="0.22">E</text>
<path d="M290.3 213V364.3M288.8 364.3H494" stroke="#000" stroke-width="1.3" fill="none"/>
<path d="M288.2 334.1h2M288.2 303.8h2M288.2 273.6h2M288.2 243.3h2M288.2 213.1h2M316.3 364.3v3.4M366.8 364.3v3.4M417.6 364.3v3.4M468 364.3v3.4" stroke="#000" stroke-width="1.1" fill="none"/>
<text x="283.2" y="368.9" font-size="10.5" text-anchor="end" stroke="#000" stroke-width="0.22">0</text>
<text x="283.2" y="337.9" font-size="10.5" text-anchor="end" stroke="#000" stroke-width="0.22">20</text>
<text x="283.2" y="307.1" font-size="10.5" text-anchor="end" stroke="#000" stroke-width="0.22">40</text>
<text x="283.2" y="278.4" font-size="10.5" text-anchor="end" stroke="#000" stroke-width="0.22">60</text>
<text x="283.2" y="248.4" font-size="10.5" text-anchor="end" stroke="#000" stroke-width="0.22">80</text>
<text x="283.2" y="218.6" font-size="10.5" text-anchor="end" stroke="#000" stroke-width="0.22">100</text>
<text transform="translate(261.2 332.2) rotate(-90)" font-size="10.8" textLength="103.4" lengthAdjust="spacingAndGlyphs" stroke="#000" stroke-width="0.22">% Transduced Cells</text>
<text x="317.4" y="219.6" font-size="16" textLength="19.4" lengthAdjust="spacingAndGlyphs" font-weight="normal" stroke="#000" stroke-width="0.25">***</text>
<text x="428.4" y="220.6" font-size="16" textLength="19.6" lengthAdjust="spacingAndGlyphs" font-weight="normal" stroke="#000" stroke-width="0.25">***</text>
<rect x="313.4" y="290.9" width="5.8" height="5.8" fill="#fff" stroke="#000" stroke-width="1.5"/>
<rect x="304.1" y="307.1" width="5.8" height="5.8" fill="#fff" stroke="#000" stroke-width="1.5"/>
<rect x="313.4" y="307.1" width="5.8" height="5.8" fill="#fff" stroke="#000" stroke-width="1.5"/>
<rect x="323.4" y="321.6" width="5.8" height="5.8" fill="#fff" stroke="#000" stroke-width="1.5"/>
<rect x="313.4" y="330.1" width="5.8" height="5.8" fill="#fff" stroke="#000" stroke-width="1.5"/>
<path d="M299.3 313.3L334.3 313.3" stroke="#000" stroke-width="1.3" fill="none"/>
<rect x="364" y="248.7" width="5.6" height="6.6" fill="#000"/>
<rect x="373.5" y="258" width="5.6" height="6.6" fill="#000"/>
<rect x="354.7" y="263.5" width="5.6" height="6.6" fill="#000"/>
<rect x="364" y="264.2" width="5.6" height="6.6" fill="#000"/>
<rect x="364" y="280.5" width="5.6" height="6.6" fill="#000"/>
<path d="M349.3 266.3L384.4 266.3" stroke="#000" stroke-width="1.3" fill="none"/>
<rect x="414.7" y="297.2" width="5.8" height="5.8" fill="#fff" stroke="#000" stroke-width="1.5"/>
<rect x="414.7" y="311.6" width="5.8" height="5.8" fill="#fff" stroke="#000" stroke-width="1.5"/>
<rect x="414.7" y="328.3" width="5.8" height="5.8" fill="#fff" stroke="#000" stroke-width="1.5"/>
<rect x="414.7" y="341.3" width="5.8" height="5.8" fill="#fff" stroke="#000" stroke-width="1.5"/>
<rect x="414.7" y="355.7" width="5.8" height="5.8" fill="#fff" stroke="#000" stroke-width="1.5"/>
<path d="M399.7 329.5L434.9 329.5" stroke="#000" stroke-width="1.3" fill="none"/>
<rect x="465.2" y="215.4" width="5.6" height="6.8" fill="#000"/>
<rect x="465.2" y="232.2" width="5.6" height="6.8" fill="#000"/>
<rect x="465.2" y="244.3" width="5.6" height="6.8" fill="#000"/>
<rect x="465.2" y="261" width="5.6" height="6.8" fill="#000"/>
<rect x="465.2" y="280.3" width="5.6" height="6.8" fill="#000"/>
<path d="M450.2 250L485.4 250" stroke="#000" stroke-width="1.3" fill="none"/>
<text x="303.8" y="382.4" font-size="10.3" textLength="22" lengthAdjust="spacingAndGlyphs" stroke="#000" stroke-width="0.22">TCR</text>
<text x="340" y="382" font-size="10.3" textLength="50.2" lengthAdjust="spacingAndGlyphs" stroke="#000" stroke-width="0.22">TCR+CD3</text>
<text x="409.5" y="383.4" font-size="10.3" textLength="21.6" lengthAdjust="spacingAndGlyphs" stroke="#000" stroke-width="0.22">TCR</text>
<text x="446.4" y="382.6" font-size="10.3" textLength="49.1" lengthAdjust="spacingAndGlyphs" stroke="#000" stroke-width="0.22">TCR+CD3</text>
<path d="M303 387.8L390.2 387.8" stroke="#000" stroke-width="2.2" fill="none"/>
<path d="M409.5 388.6L494.9 388.6" stroke="#000" stroke-width="2.2" fill="none"/>
<text x="308" y="402.2" font-size="10" textLength="74" lengthAdjust="spacingAndGlyphs" stroke="#000" stroke-width="0.22">CD44<tspan font-size="58%" dy="-3.6">+</tspan><tspan dy="3.6">/</tspan>CD62L<tspan font-size="58%" dy="-3.6">+</tspan></text>
<text x="414.7" y="402.2" font-size="10" textLength="72" lengthAdjust="spacingAndGlyphs" stroke="#000" stroke-width="0.22">CD44<tspan font-size="58%" dy="-3.6">+</tspan><tspan dy="3.6">/</tspan>CD62L<tspan font-size="58%" dy="-3.6">-</tspan></text>
</g>
<g id="panelF">
<text transform="translate(9.6 420) scale(1.13 1)" font-size="12" stroke="#000" stroke-width="0.22">F</text>
<text x="44.4" y="471.8" font-size="12.6" textLength="20.2" lengthAdjust="spacingAndGlyphs" stroke="#000" stroke-width="0.22">D 8</text>
<text x="8.8" y="556.2" font-size="12.8" textLength="57.5" lengthAdjust="spacingAndGlyphs" stroke="#000" stroke-width="0.22">6 months</text>
<defs><filter id="fur" x="0" y="0" width="100%" height="100%"><feTurbulence type="fractalNoise" baseFrequency="0.6 0.2" numOctaves="3" seed="4" result="n"/><feColorMatrix in="n" type="matrix" values="0 0 0 0 0  0 0 0 0 0  0 0 0 0 0  1.3 0 0 0 -0.42" result="a"/><feFlood flood-color="#fff"/><feComposite in2="a" operator="in"/></filter><filter id="furd" x="0" y="0" width="100%" height="100%"><feTurbulence type="fractalNoise" baseFrequency="0.55 0.2" numOctaves="3" seed="11" result="n"/><feColorMatrix in="n" type="matrix" values="0 0 0 0 0  0 0 0 0 0  0 0 0 0 0  0 1.3 0 0 -0.42" result="a"/><feFlood flood-color="#000"/><feComposite in2="a" operator="in"/></filter><filter id="m2" x="-30%" y="-30%" width="160%" height="160%"><feGaussianBlur stdDeviation="2.2"/></filter><filter id="m1" x="-30%" y="-30%" width="160%" height="160%"><feGaussianBlur stdDeviation="0.95"/></filter><filter id="m4" x="-40%" y="-40%" width="180%" height="180%"><feGaussianBlur stdDeviation="4"/></filter><filter id="m06" x="-30%" y="-30%" width="160%" height="160%"><feGaussianBlur stdDeviation="0.6"/></filter><clipPath id="cT"><rect x="71.2" y="424.7" width="146.1" height="83.8"/></clipPath><clipPath id="cB"><rect x="71.3" y="512.7" width="148.5" height="85.8"/></clipPath></defs>
<g clip-path="url(#cT)">
<rect x="71" y="424" width="147" height="85" fill="#585858"/>
<g filter="url(#m1)">
<rect x="70" y="424" width="5" height="86" fill="#6e6e6e"/>
<rect x="74.5" y="432" width="5.2" height="72" fill="#242424"/>
<rect x="74.5" y="424" width="5.2" height="8" fill="#3a3a3a"/>
<path d="M79.5 424H113V470Q113 495 109 507H85Q79.5 492 79.5 466Z" fill="#4e4e4e"/>
<rect x="79.5" y="424" width="33.5" height="13" fill="#2a2a2a"/>
<ellipse cx="97" cy="452" rx="10" ry="12" fill="#464646"/>
<ellipse cx="88" cy="484" rx="8" ry="12" fill="#747474"/>
<ellipse cx="99" cy="494" rx="12" ry="5.5" fill="#7a7a7a"/>
<ellipse cx="90" cy="503" rx="9" ry="3" fill="#303030"/>
<rect x="112.6" y="432" width="6" height="73" fill="#202020"/>
<rect x="118.6" y="424" width="2" height="86" fill="#585858"/>
<rect x="87" y="505.5" width="18" height="4" fill="#666"/>
<rect x="121.4" y="424" width="34" height="86" fill="#565656"/>
<rect x="153" y="424" width="18" height="86" fill="#626262"/>
<rect x="121.6" y="430" width="3.4" height="30" fill="#232323"/>
<path d="M130 424H143V434Q136 436 130 434Z" fill="#282828"/>
<ellipse cx="137" cy="447" rx="13" ry="9" fill="#5a5a5a"/>
<ellipse cx="136.5" cy="471.5" rx="16" ry="17.5" fill="#b2b2b2"/>
<ellipse cx="127.5" cy="472" rx="5.5" ry="13" fill="#f0f0f0"/>
<ellipse cx="138" cy="458" rx="12" ry="5" fill="#c4c4c4"/>
<ellipse cx="140" cy="490" rx="12" ry="5" fill="#999"/>
<ellipse cx="138" cy="502" rx="14" ry="6" fill="#727272"/>
<path d="M157 448L162.5 436L165.5 438L160 450Z" fill="#b0b0b0"/>
<rect x="171.8" y="424" width="46" height="86" fill="#545454"/>
<rect x="171.8" y="424" width="6" height="12" fill="#666"/>
<path d="M172 436L177 432L180 470V503H172Z" fill="#222"/>
<path d="M183 424H194V436Q188 438 183 436Z" fill="#2a2a2a"/>
<path d="M179.5 438Q194 432 209 438V470Q209 495 206 509H182Q179.5 490 179.5 466Z" fill="#545454"/>
<ellipse cx="195" cy="452" rx="10" ry="10" fill="#4c4c4c"/>
<ellipse cx="186" cy="469" rx="6" ry="10" fill="#b4b4b4"/>
<ellipse cx="184" cy="478" rx="4" ry="8" fill="#4a4a4a"/>
<ellipse cx="195" cy="494" rx="11" ry="5" fill="#6a6a6a"/>
<ellipse cx="188" cy="504.5" rx="9" ry="3.5" fill="#383838"/>
<rect x="207" y="440" width="5" height="62" fill="#2c2c2c"/>
<rect x="212" y="424" width="6" height="86" fill="#767676"/>
</g>
<g filter="url(#m06)">
<ellipse cx="79" cy="431" rx="4.8" ry="2.6" fill="#e6e6e6" transform="rotate(-12 79 431)"/>
<ellipse cx="101.2" cy="429" rx="5.4" ry="3.8" fill="#dcdcdc" transform="rotate(-15 101.2 429)"/>
<ellipse cx="102" cy="428.6" rx="2.8" ry="1.4" fill="#505050" transform="rotate(-25 102 428.6)"/>
<ellipse cx="108.5" cy="502" rx="3" ry="2.3" fill="#e0e0e0"/>
<ellipse cx="85.2" cy="506" rx="1.8" ry="3" fill="#e8e8e8"/>
<ellipse cx="146.3" cy="431.6" rx="4.6" ry="3.8" fill="#b0b0b0" transform="rotate(-20 146.3 431.6)"/>
<ellipse cx="145" cy="431" rx="1.6" ry="2.6" fill="#e8e8e8" transform="rotate(10 145 431)"/>
<ellipse cx="127" cy="428" rx="4" ry="2" fill="#bcbcbc" transform="rotate(-20 127 428)"/>
<ellipse cx="159.5" cy="486" rx="8.2" ry="1.5" fill="#fff" transform="rotate(-54 159.5 486)"/>
<ellipse cx="160.5" cy="487.5" rx="6.6" ry="1.4" fill="#f4f4f4" transform="rotate(-36 160.5 487.5)"/>
<ellipse cx="163" cy="492.5" rx="7.6" ry="1.4" fill="#ececec" transform="rotate(-40 163 492.5)"/>
<ellipse cx="148.5" cy="502" rx="7.4" ry="1.5" fill="#e6e6e6" transform="rotate(-50 148.5 502)"/>
<ellipse cx="148.9" cy="506" rx="2.6" ry="0.9" fill="#161616"/>
<ellipse cx="199.6" cy="434" rx="6" ry="4.3" fill="#d8d8d8" transform="rotate(-15 199.6 434)"/>
<ellipse cx="200.6" cy="434" rx="3.2" ry="2" fill="#5a5a5a" transform="rotate(-30 200.6 434)"/>
<ellipse cx="180.2" cy="432.4" rx="3.6" ry="3.2" fill="#d0d0d0" transform="rotate(-30 180.2 432.4)"/>
<ellipse cx="214.3" cy="441.6" rx="2" ry="1.8" fill="#eaeaea"/>
<ellipse cx="206" cy="505.5" rx="10.5" ry="3.6" fill="#ececec"/>
<ellipse cx="206" cy="507" rx="6" ry="1.4" fill="#999"/>
</g>
<path d="M155 432h14M157 447h12M157 461.5h12M158 475h8M153.7 424v30M169 424v85" stroke="#2e2e2e" stroke-width="0.8" opacity="0.7" fill="none"/>
<rect x="71" y="424" width="147" height="85" fill="#fff" filter="url(#fur)" opacity="0.16"/>
<rect x="71" y="424" width="147" height="85" fill="#000" filter="url(#furd)" opacity="0.3"/>
<rect x="71" y="424.6" width="147" height="1.2" fill="#2a2a2a" opacity="0.8"/>
<rect x="216.2" y="424" width="1.4" height="85" fill="#333" opacity="0.8"/>
<rect x="120.2" y="424" width="1.3" height="85" fill="#c8c8c8"/>
<rect x="170.7" y="424" width="1.3" height="85" fill="#c8c8c8"/>
<g transform="rotate(-42 103.2 478.5)" filter="url(#m06)">
<ellipse cx="103.2" cy="478.5" rx="12.2" ry="10.3" fill="#c9a0e8"/>
<ellipse cx="103.2" cy="478.5" rx="11.5" ry="9.6" fill="#1a10e8"/>
<ellipse cx="104.8" cy="478.7" rx="8.5" ry="6.8" fill="#18b8f0"/>
<ellipse cx="105.4" cy="478.7" rx="7.1" ry="5.4" fill="#2ed84a"/>
<ellipse cx="106.2" cy="478.7" rx="4.9" ry="3.7" fill="#f0ec20"/>
</g>
<ellipse cx="106.1" cy="479" rx="1.7" ry="3.3" fill="#f01010" transform="rotate(15 106.1 479)" filter="url(#m06)"/>
<g transform="rotate(18 141.4 473)" filter="url(#m06)">
<ellipse cx="141.4" cy="473" rx="12.8" ry="11.4" fill="#e4d4f4"/>
<ellipse cx="141.4" cy="473" rx="12" ry="10.6" fill="#1a10e8"/>
<ellipse cx="142.2" cy="472.4" rx="9.7" ry="8.2" fill="#18b8f0"/>
<ellipse cx="142.6" cy="472.2" rx="8.7" ry="7.1" fill="#2ed84a"/>
<ellipse cx="142.9" cy="472" rx="7.8" ry="6.2" fill="#f0ec20"/>
<ellipse cx="143.2" cy="471.8" rx="7" ry="5.2" fill="#f01010"/>
</g>
<g transform="rotate(0 195.2 477.4)" filter="url(#m06)">
<ellipse cx="195.2" cy="477.4" rx="12" ry="11.8" fill="#c9b0e8"/>
<ellipse cx="195.2" cy="477.4" rx="11.3" ry="11.1" fill="#1a10e8"/>
<ellipse cx="195.6" cy="477.6" rx="9.6" ry="9.4" fill="#18b8f0"/>
<ellipse cx="195.8" cy="477.7" rx="8.6" ry="8.3" fill="#2ed84a"/>
<ellipse cx="196" cy="477.9" rx="7.6" ry="6.8" fill="#f0ec20"/>
<ellipse cx="196.1" cy="478.2" rx="6.4" ry="5" fill="#f01010"/>
</g>
</g>
<g clip-path="url(#cB)">
<rect x="71" y="512" width="149" height="87" fill="#5c5c5c"/>
<g filter="url(#m1)">
<rect x="70" y="512" width="20" height="18" fill="#6e6e6e"/>
<rect x="107" y="512" width="15" height="88" fill="#3c3c3c"/>
<rect x="122" y="512" width="52" height="88" fill="#545454"/>
<rect x="160" y="545" width="14" height="40" fill="#484848"/>
<rect x="174.5" y="512" width="46" height="88" fill="#585858"/>
<rect x="174.5" y="512" width="8" height="30" fill="#4a4a4a"/>
<rect x="213" y="512" width="8" height="88" fill="#747474"/>
<rect x="70" y="527" width="12" height="74" fill="#464646"/>
<path d="M86 533Q88 518 99 516Q108 519 109 534Q113 548 112.5 562Q115 580 111 600H82Q77 588 79 568Q79 550 86 541Z" fill="#7e7e7e"/>
<ellipse cx="98" cy="528" rx="10" ry="11" fill="#6a6a6a" transform="rotate(-10 98 528)"/>
<ellipse cx="92" cy="579" rx="11" ry="12" fill="#dadada"/>
<ellipse cx="86" cy="560" rx="5" ry="9" fill="#9c9c9c"/>
<ellipse cx="95" cy="563" rx="5.5" ry="4.8" fill="#444"/>
<ellipse cx="106.5" cy="579" rx="5" ry="12" fill="#727272"/>
<ellipse cx="103" cy="549" rx="6" ry="8" fill="#707070"/>
<ellipse cx="92" cy="546" rx="6" ry="5" fill="#8a8a8a"/>
<path d="M127 531Q134 519 150 520Q160 524 161 538Q167 556 165 575Q165 590 160 600H128Q122 585 123 565Q122 545 127 531Z" fill="#a8a8a8"/>
<ellipse cx="148" cy="529" rx="12" ry="8" fill="#6e6e6e"/>
<ellipse cx="138" cy="563" rx="11.5" ry="25" fill="#dcdcdc"/>
<ellipse cx="150" cy="560" rx="7" ry="16" fill="#bcbcbc"/>
<ellipse cx="156" cy="583" rx="7" ry="12" fill="#7c7c7c"/>
<ellipse cx="156" cy="548" rx="5" ry="6" fill="#8a8a8a"/>
<ellipse cx="131" cy="590" rx="6" ry="7" fill="#8c8c8c"/>
<path d="M186 528Q190 515 200 514Q210 517 211 532Q216 548 215 570Q216 590 212 600H184Q179 585 181 565Q180 545 186 528Z" fill="#a6a6a6"/>
<ellipse cx="199" cy="520" rx="9" ry="6" fill="#7a7a7a" transform="rotate(10 199 520)"/>
<ellipse cx="195" cy="538" rx="9" ry="12" fill="#ececec"/>
<ellipse cx="194" cy="570" rx="9" ry="20" fill="#c8c8c8"/>
<ellipse cx="207" cy="580" rx="6" ry="15" fill="#828282"/>
<ellipse cx="208" cy="552" rx="5" ry="9" fill="#909090"/>
<path d="M179.5 538Q179 565 184.5 595L186.5 595Q182 565 182 538Z" fill="#1e1e1e"/>
</g>
<g filter="url(#m06)">
<ellipse cx="77" cy="528.5" rx="5.4" ry="2.7" fill="#e2e2e2" transform="rotate(-12 77 528.5)"/>
<ellipse cx="99.6" cy="533.4" rx="3.6" ry="3" fill="#fafafa"/>
<ellipse cx="94.5" cy="533.5" rx="2" ry="3.4" fill="#505050" transform="rotate(30 94.5 533.5)"/>
<ellipse cx="101" cy="522.5" rx="1.8" ry="3.4" fill="#3a3a3a" transform="rotate(10 101 522.5)"/>
<ellipse cx="110.5" cy="586.5" rx="2.6" ry="1.6" fill="#f4f4f4" transform="rotate(-15 110.5 586.5)"/>
<ellipse cx="94.5" cy="597.4" rx="3" ry="1.5" fill="#eaeaea"/>
<ellipse cx="128.5" cy="530" rx="4.6" ry="2.6" fill="#dedede" transform="rotate(-10 128.5 530)"/>
<ellipse cx="147.5" cy="534" rx="4.4" ry="3" fill="#dedede"/>
<ellipse cx="148" cy="534.4" rx="2.2" ry="1.3" fill="#555"/>
<ellipse cx="162.6" cy="540" rx="2.2" ry="3.8" fill="#ececec" transform="rotate(25 162.6 540)"/>
<ellipse cx="165" cy="591" rx="8.5" ry="1.8" fill="#ececec" transform="rotate(-20 165 591)"/>
<ellipse cx="183" cy="537" rx="4.4" ry="2.4" fill="#e0e0e0" transform="rotate(-35 183 537)"/>
<ellipse cx="206.5" cy="534" rx="2.4" ry="3.8" fill="#565656" transform="rotate(-10 206.5 534)"/>
<ellipse cx="212" cy="536" rx="2.6" ry="2" fill="#bbb"/>
<ellipse cx="201.5" cy="521.5" rx="1.4" ry="1.4" fill="#eee"/>
<ellipse cx="214.5" cy="596.6" rx="4" ry="1.6" fill="#dcdcdc"/>
</g>
<path d="M85 512v12M88.5 512v10M110 519v56M115 519v78M110 519h11M165.5 526h7v62h-5M169 534v46M184 512v14" stroke="#262626" stroke-width="0.9" opacity="0.75" fill="none"/>
<rect x="71" y="512" width="149" height="87" fill="#fff" filter="url(#fur)" opacity="0.2"/>
<rect x="71" y="512" width="149" height="87" fill="#000" filter="url(#furd)" opacity="0.3"/>
<rect x="121.3" y="512" width="1.3" height="87" fill="#d4d4d4"/>
<rect x="173.6" y="512" width="1.3" height="87" fill="#d4d4d4"/>
</g>
<path d="M287.5 432.4V579.5M284.5 579.5H491.6" stroke="#000" stroke-width="1.3" fill="none"/>
<path d="M284.5 546.8h3M284.5 514h3M284.5 481.2h3M284.5 448.5h3" stroke="#000" stroke-width="1.1" fill="none"/>
<text x="283" y="584" font-size="10.5" text-anchor="end" stroke="#000" stroke-width="0.22">0</text>
<text x="283" y="551.3" font-size="10.5" text-anchor="end" stroke="#000" stroke-width="0.22">4</text>
<text x="283" y="518.5" font-size="10.5" text-anchor="end" stroke="#000" stroke-width="0.22">8</text>
<text x="283" y="485.8" font-size="10.5" text-anchor="end" stroke="#000" stroke-width="0.22">12</text>
<text x="283" y="453" font-size="10.5" text-anchor="end" stroke="#000" stroke-width="0.22">16</text>
<text transform="translate(270 554.2) rotate(-90)" font-size="10.6" textLength="91" lengthAdjust="spacingAndGlyphs" stroke="#000" stroke-width="0.22">Absolute no x 10<tspan font-size="65%" dy="-3.5">3</tspan></text>
<path d="M310.6 540V525.5M305.2 525.5H316.2M339.2 497V447.8M333.3 447.8H344.2M414 574V571.8M408.6 571.8H419.3M442 569V560.4M436.7 560.4H447.3" stroke="#000" stroke-width="1.1" fill="none"/>
<rect x="301.3" y="540.1" width="18.8" height="39.4" fill="#fff" stroke="#000" stroke-width="1.2"/>
<rect x="329.4" y="496.8" width="19.6" height="82.7" fill="#000"/>
<rect x="404.8" y="574.4" width="18" height="5.1" fill="#fff" stroke="#000" stroke-width="1.2"/>
<rect x="432.6" y="569.1" width="19.2" height="10.4" fill="#000"/>
<text x="316.4" y="593.4" font-size="10.3" textLength="26.3" lengthAdjust="spacingAndGlyphs" stroke="#000" stroke-width="0.22">TDLN</text>
<text x="407.2" y="593.1" font-size="10.3" textLength="53" lengthAdjust="spacingAndGlyphs" stroke="#000" stroke-width="0.22">Non-TDLN</text>
<rect x="420.4" y="460.4" width="5.6" height="7" fill="#fff" stroke="#000" stroke-width="1.1"/>
<rect x="419.9" y="476.8" width="6.6" height="7.4" fill="#000"/>
<text x="430.2" y="467.4" font-size="10.5" textLength="38.4" lengthAdjust="spacingAndGlyphs" stroke="#000" stroke-width="0.22">F5-TCR</text>
<text x="430.2" y="483.6" font-size="10.5" textLength="68" lengthAdjust="spacingAndGlyphs" stroke="#000" stroke-width="0.22">F5-TCR+CD3</text>
</g>
</g>
</svg></body></html>
